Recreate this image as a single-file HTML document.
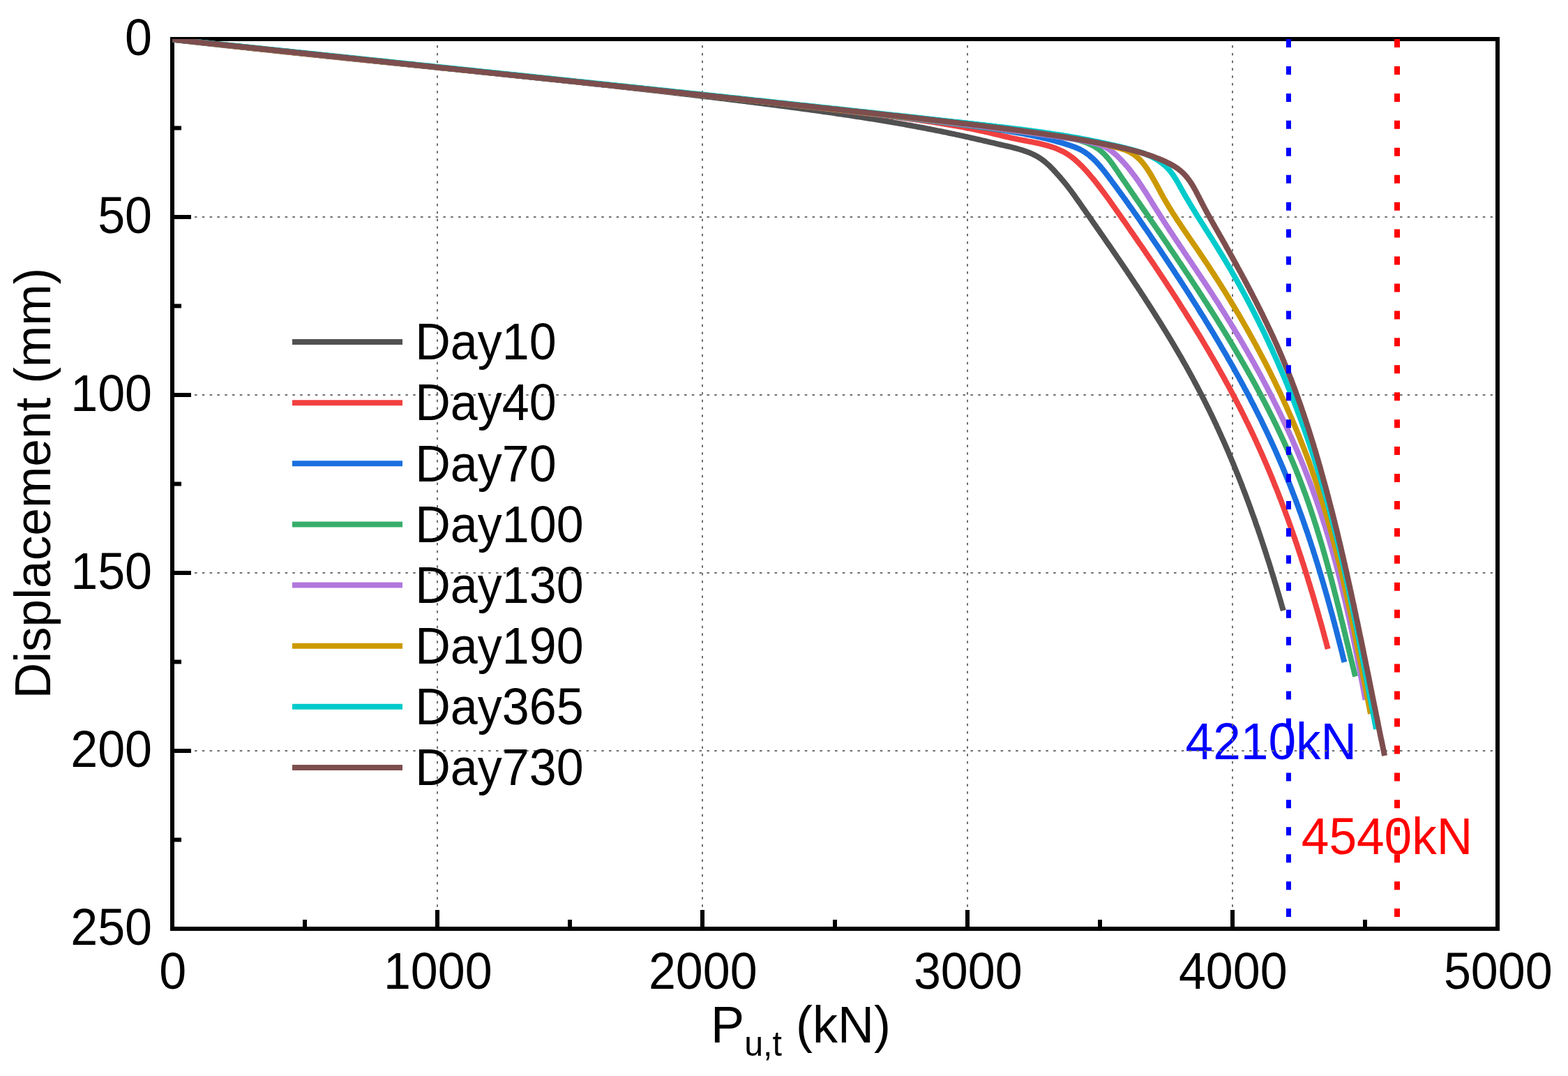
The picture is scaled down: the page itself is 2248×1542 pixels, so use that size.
<!DOCTYPE html>
<html><head><meta charset="utf-8"><title>Displacement vs load</title>
<style>html,body{margin:0;padding:0;background:#fff;width:2248px;height:1542px;overflow:hidden}</style>
</head><body>

<svg width="2248" height="1542" viewBox="0 0 2248 1542" style="display:block">
<rect x="0" y="0" width="2248" height="1542" fill="#fff"/>
<g font-family='"Liberation Sans", Arial, sans-serif'><text transform="translate(1699.60,1088.30) scale(1.0,1.05)" fill="#0000FF" font-size="71.2">4210kN</text><text transform="translate(1865.80,1224.30) scale(1.0,1.05)" fill="#FF0000" font-size="71.2">4540kN</text></g>
<g stroke="#6e6e6e" stroke-width="2" stroke-dasharray="3.5 7.3" fill="none"><line x1="627.0" y1="56" x2="627.0" y2="1331" stroke-dashoffset="1.7"/><line x1="1007.0" y1="56" x2="1007.0" y2="1331" stroke-dashoffset="1.7"/><line x1="1387.0" y1="56" x2="1387.0" y2="1331" stroke-dashoffset="1.7"/><line x1="1767.0" y1="56" x2="1767.0" y2="1331" stroke-dashoffset="1.7"/><line x1="247" y1="311.0" x2="2147" y2="311.0" stroke-dashoffset="0.4"/><line x1="247" y1="566.0" x2="2147" y2="566.0" stroke-dashoffset="0.4"/><line x1="247" y1="821.0" x2="2147" y2="821.0" stroke-dashoffset="0.4"/><line x1="247" y1="1076.0" x2="2147" y2="1076.0" stroke-dashoffset="0.4"/></g>
<g stroke="#000" stroke-width="6" fill="none"><line x1="247.0" y1="1331" x2="247.0" y2="1304"/><line x1="437.0" y1="1331" x2="437.0" y2="1318"/><line x1="627.0" y1="1331" x2="627.0" y2="1304"/><line x1="817.0" y1="1331" x2="817.0" y2="1318"/><line x1="1007.0" y1="1331" x2="1007.0" y2="1304"/><line x1="1197.0" y1="1331" x2="1197.0" y2="1318"/><line x1="1387.0" y1="1331" x2="1387.0" y2="1304"/><line x1="1577.0" y1="1331" x2="1577.0" y2="1318"/><line x1="1767.0" y1="1331" x2="1767.0" y2="1304"/><line x1="1957.0" y1="1331" x2="1957.0" y2="1318"/><line x1="2147.0" y1="1331" x2="2147.0" y2="1304"/><line x1="247" y1="56.0" x2="274" y2="56.0"/><line x1="247" y1="183.5" x2="260" y2="183.5"/><line x1="247" y1="311.0" x2="274" y2="311.0"/><line x1="247" y1="438.5" x2="260" y2="438.5"/><line x1="247" y1="566.0" x2="274" y2="566.0"/><line x1="247" y1="693.5" x2="260" y2="693.5"/><line x1="247" y1="821.0" x2="274" y2="821.0"/><line x1="247" y1="948.5" x2="260" y2="948.5"/><line x1="247" y1="1076.0" x2="274" y2="1076.0"/><line x1="247" y1="1203.5" x2="260" y2="1203.5"/><line x1="247" y1="1331.0" x2="274" y2="1331.0"/></g>
<rect x="247" y="56" width="1900" height="1275" fill="none" stroke="#000" stroke-width="6" stroke-linejoin="miter"/>
<defs><clipPath id="cp"><rect x="247" y="56" width="1900" height="1275"/></clipPath></defs>
<g clip-path="url(#cp)" fill="none" stroke-width="8" stroke-linejoin="round" stroke-linecap="butt">
<path d="M247.0,56.5 L250.0,56.8 L253.0,57.2 L255.9,57.5 L258.9,57.9 L261.9,58.2 L264.9,58.5 L267.8,58.9 L270.8,59.2 L273.8,59.5 L276.8,59.9 L279.7,60.2 L282.7,60.6 L285.7,60.9 L288.7,61.2 L291.7,61.6 L294.6,61.9 L297.6,62.2 L300.6,62.5 L303.6,62.9 L306.5,63.2 L309.5,63.5 L312.5,63.9 L315.5,64.2 L318.5,64.5 L321.4,64.9 L324.4,65.2 L327.4,65.5 L330.4,65.8 L333.4,66.2 L336.3,66.5 L339.3,66.8 L342.3,67.1 L345.3,67.5 L348.2,67.8 L351.2,68.1 L354.2,68.4 L357.2,68.7 L360.2,69.1 L363.1,69.4 L366.1,69.7 L369.1,70.0 L372.1,70.3 L375.1,70.7 L378.0,71.0 L381.0,71.3 L384.0,71.6 L387.0,71.9 L390.0,72.3 L392.9,72.6 L395.9,72.9 L398.9,73.2 L401.9,73.5 L404.9,73.8 L407.8,74.2 L410.8,74.5 L413.8,74.8 L416.8,75.1 L419.8,75.4 L422.7,75.7 L425.7,76.0 L428.7,76.3 L431.7,76.7 L434.7,77.0 L437.6,77.3 L440.6,77.6 L443.6,77.9 L446.6,78.2 L449.6,78.5 L452.5,78.8 L455.5,79.1 L458.5,79.5 L461.5,79.8 L464.5,80.1 L467.4,80.4 L470.4,80.7 L473.4,81.0 L476.4,81.3 L479.4,81.6 L482.3,81.9 L485.3,82.2 L488.3,82.5 L491.3,82.9 L494.3,83.2 L497.2,83.5 L500.2,83.8 L503.2,84.1 L506.2,84.4 L509.2,84.7 L512.1,85.0 L515.1,85.3 L518.1,85.6 L521.1,85.9 L524.1,86.2 L527.0,86.5 L530.0,86.8 L533.0,87.1 L536.0,87.4 L539.0,87.7 L542.0,88.0 L544.9,88.4 L547.9,88.7 L550.9,89.0 L553.9,89.3 L556.9,89.6 L559.8,89.9 L562.8,90.2 L565.8,90.5 L568.8,90.8 L571.8,91.1 L574.7,91.4 L577.7,91.7 L580.7,92.0 L583.7,92.3 L586.7,92.6 L589.6,92.9 L592.6,93.2 L595.6,93.5 L598.6,93.8 L601.6,94.1 L604.6,94.4 L607.5,94.7 L610.5,95.0 L613.5,95.3 L616.5,95.6 L619.5,96.0 L622.4,96.3 L625.4,96.6 L628.4,96.9 L631.4,97.2 L634.4,97.5 L637.3,97.8 L640.3,98.1 L643.3,98.4 L646.3,98.7 L649.3,99.0 L652.2,99.3 L655.2,99.6 L658.2,99.9 L661.2,100.2 L664.2,100.5 L667.2,100.8 L670.1,101.1 L673.1,101.4 L676.1,101.7 L679.1,102.0 L682.1,102.3 L685.0,102.7 L688.0,103.0 L691.0,103.3 L694.0,103.6 L697.0,103.9 L699.9,104.2 L702.9,104.5 L705.9,104.8 L708.9,105.1 L711.9,105.4 L714.8,105.7 L717.8,106.0 L720.8,106.3 L723.8,106.6 L726.8,107.0 L729.7,107.3 L732.7,107.6 L735.7,107.9 L738.7,108.2 L741.7,108.5 L744.6,108.8 L747.6,109.1 L750.6,109.4 L753.6,109.7 L756.6,110.0 L759.5,110.4 L762.5,110.7 L765.5,111.0 L768.5,111.3 L771.5,111.6 L774.4,111.9 L777.4,112.2 L780.4,112.5 L783.4,112.9 L786.4,113.2 L789.3,113.5 L792.3,113.8 L795.3,114.1 L798.3,114.4 L801.3,114.7 L804.2,115.1 L807.2,115.4 L810.2,115.7 L813.2,116.0 L816.2,116.3 L819.1,116.7 L822.1,117.0 L825.1,117.3 L828.1,117.6 L831.1,117.9 L834.0,118.2 L837.0,118.6 L840.0,118.9 L843.0,119.2 L846.0,119.5 L848.9,119.9 L851.9,120.2 L854.9,120.5 L857.9,120.8 L860.9,121.1 L863.8,121.5 L866.8,121.8 L869.8,122.1 L872.8,122.4 L875.7,122.8 L878.7,123.1 L881.7,123.4 L884.7,123.8 L887.7,124.1 L890.6,124.4 L893.6,124.7 L896.6,125.1 L899.6,125.4 L902.5,125.7 L905.5,126.1 L908.5,126.4 L911.5,126.7 L914.5,127.1 L917.4,127.4 L920.4,127.7 L923.4,128.1 L926.4,128.4 L929.3,128.7 L932.3,129.1 L935.3,129.4 L938.3,129.8 L941.3,130.1 L944.2,130.4 L947.2,130.8 L950.2,131.1 L953.2,131.5 L956.1,131.8 L959.1,132.1 L962.1,132.5 L965.1,132.8 L968.0,133.2 L971.0,133.5 L974.0,133.9 L977.0,134.2 L980.0,134.6 L982.9,134.9 L985.9,135.3 L988.9,135.6 L991.9,135.9 L994.8,136.3 L997.8,136.7 L1000.8,137.0 L1003.8,137.4 L1006.7,137.7 L1009.7,138.1 L1012.7,138.4 L1015.7,138.8 L1018.6,139.1 L1021.6,139.5 L1024.6,139.8 L1027.6,140.2 L1030.5,140.6 L1033.5,140.9 L1036.5,141.3 L1039.5,141.6 L1042.4,142.0 L1045.4,142.4 L1048.4,142.7 L1051.4,143.1 L1054.3,143.5 L1057.3,143.8 L1060.3,144.2 L1063.2,144.6 L1066.2,144.9 L1069.2,145.3 L1072.2,145.7 L1075.1,146.1 L1078.1,146.4 L1081.1,146.8 L1084.1,147.2 L1087.0,147.6 L1090.0,147.9 L1093.0,148.3 L1096.0,148.7 L1098.9,149.1 L1101.9,149.4 L1104.9,149.8 L1107.8,150.2 L1110.8,150.6 L1113.8,151.0 L1116.8,151.4 L1119.7,151.7 L1122.7,152.1 L1125.7,152.5 L1128.6,152.9 L1131.6,153.3 L1134.6,153.7 L1137.6,154.1 L1140.5,154.5 L1143.5,154.9 L1146.5,155.3 L1149.4,155.7 L1152.4,156.1 L1155.4,156.5 L1158.3,156.9 L1161.3,157.3 L1164.3,157.7 L1167.2,158.1 L1170.2,158.5 L1173.2,158.9 L1176.2,159.3 L1179.1,159.8 L1182.1,160.2 L1185.1,160.6 L1188.0,161.0 L1191.0,161.4 L1193.9,161.9 L1196.9,162.3 L1199.9,162.7 L1202.8,163.2 L1205.8,163.6 L1208.8,164.0 L1211.7,164.5 L1214.7,164.9 L1217.7,165.4 L1220.6,165.8 L1223.6,166.3 L1226.5,166.7 L1229.5,167.2 L1232.5,167.6 L1235.4,168.1 L1238.4,168.6 L1241.3,169.0 L1244.3,169.5 L1247.3,170.0 L1250.2,170.4 L1253.2,170.9 L1256.1,171.4 L1259.1,171.9 L1262.0,172.4 L1265.0,172.8 L1267.9,173.3 L1270.9,173.8 L1273.9,174.3 L1276.8,174.8 L1279.8,175.3 L1282.7,175.9 L1285.7,176.4 L1288.6,176.9 L1291.6,177.4 L1294.5,177.9 L1297.5,178.4 L1300.4,179.0 L1303.4,179.5 L1306.3,180.0 L1309.2,180.6 L1312.2,181.1 L1315.1,181.7 L1318.1,182.2 L1321.0,182.8 L1324.0,183.3 L1326.9,183.9 L1329.8,184.5 L1332.8,185.0 L1335.7,185.6 L1338.7,186.2 L1341.6,186.8 L1344.5,187.4 L1347.5,187.9 L1350.4,188.5 L1353.3,189.1 L1356.3,189.7 L1359.2,190.3 L1362.1,191.0 L1365.1,191.6 L1368.0,192.2 L1370.9,192.8 L1373.9,193.4 L1376.8,194.1 L1379.7,194.7 L1382.6,195.4 L1385.6,196.0 L1388.5,196.7 L1391.4,197.3 L1394.3,198.0 L1397.3,198.6 L1400.2,199.3 L1403.1,200.0 L1406.0,200.7 L1409.0,201.3 L1411.9,202.0 L1414.8,202.7 L1417.7,203.4 L1420.7,204.1 L1423.6,204.7 L1426.5,205.4 L1429.4,206.1 L1432.4,206.8 L1435.3,207.5 L1438.2,208.2 L1441.2,208.8 L1444.1,209.5 L1447.0,210.2 L1450.0,210.9 L1452.9,211.6 L1455.8,212.4 L1458.7,213.2 L1461.6,214.0 L1464.4,214.8 L1467.3,215.7 L1470.1,216.7 L1472.9,217.7 L1475.6,218.7 L1478.3,219.9 L1481.0,221.1 L1483.6,222.4 L1486.2,223.8 L1488.7,225.2 L1491.2,226.8 L1493.6,228.5 L1496.0,230.3 L1498.4,232.1 L1500.6,234.1 L1502.9,236.1 L1505.1,238.2 L1507.2,240.3 L1509.4,242.5 L1511.4,244.7 L1513.5,247.0 L1515.5,249.3 L1517.6,251.6 L1519.6,253.8 L1521.5,256.1 L1523.5,258.4 L1525.4,260.7 L1527.3,263.0 L1529.2,265.3 L1531.0,267.7 L1532.8,270.1 L1534.6,272.4 L1536.4,274.8 L1538.1,277.2 L1539.9,279.6 L1541.6,282.1 L1543.3,284.5 L1545.0,286.9 L1546.8,289.4 L1548.5,291.8 L1550.2,294.2 L1551.9,296.7 L1553.6,299.1 L1555.3,301.6 L1557.0,304.0 L1558.7,306.5 L1560.5,308.9 L1562.2,311.3 L1563.9,313.8 L1565.6,316.2 L1567.3,318.7 L1569.0,321.1 L1570.7,323.6 L1572.4,326.0 L1574.1,328.5 L1575.9,330.9 L1577.6,333.4 L1579.3,335.9 L1581.0,338.3 L1582.7,340.8 L1584.4,343.2 L1586.1,345.7 L1587.8,348.2 L1589.5,350.6 L1591.2,353.1 L1592.9,355.5 L1594.6,358.0 L1596.3,360.5 L1598.0,363.0 L1599.7,365.4 L1601.4,367.9 L1603.1,370.4 L1604.8,372.8 L1606.4,375.3 L1608.1,377.8 L1609.8,380.3 L1611.5,382.8 L1613.2,385.3 L1614.9,387.7 L1616.5,390.2 L1618.2,392.7 L1619.9,395.2 L1621.5,397.7 L1623.2,400.2 L1624.9,402.7 L1626.5,405.2 L1628.2,407.7 L1629.9,410.2 L1631.5,412.7 L1633.2,415.2 L1634.8,417.7 L1636.4,420.2 L1638.1,422.7 L1639.7,425.2 L1641.4,427.8 L1643.0,430.3 L1644.6,432.8 L1646.3,435.3 L1647.9,437.8 L1649.5,440.4 L1651.1,442.9 L1652.7,445.4 L1654.3,448.0 L1655.9,450.5 L1657.5,453.0 L1659.1,455.6 L1660.7,458.1 L1662.3,460.7 L1663.9,463.2 L1665.5,465.8 L1667.1,468.3 L1668.6,470.9 L1670.2,473.4 L1671.8,476.0 L1673.3,478.5 L1674.9,481.1 L1676.4,483.7 L1678.0,486.2 L1679.5,488.8 L1681.1,491.4 L1682.6,494.0 L1684.1,496.6 L1685.6,499.1 L1687.1,501.7 L1688.7,504.3 L1690.2,506.9 L1691.7,509.5 L1693.2,512.1 L1694.7,514.7 L1696.1,517.3 L1697.6,519.9 L1699.1,522.5 L1700.6,525.1 L1702.0,527.7 L1703.5,530.3 L1704.9,533.0 L1706.4,535.6 L1707.8,538.2 L1709.3,540.8 L1710.7,543.5 L1712.1,546.1 L1713.5,548.8 L1714.9,551.4 L1716.3,554.0 L1717.7,556.7 L1719.1,559.3 L1720.5,562.0 L1721.9,564.7 L1723.3,567.3 L1724.6,570.0 L1726.0,572.6 L1727.3,575.3 L1728.7,578.0 L1730.0,580.7 L1731.3,583.4 L1732.7,586.0 L1734.0,588.7 L1735.3,591.4 L1736.6,594.1 L1737.9,596.8 L1739.2,599.5 L1740.5,602.2 L1741.7,604.9 L1743.0,607.6 L1744.3,610.3 L1745.5,613.1 L1746.8,615.8 L1748.0,618.5 L1749.3,621.2 L1750.5,624.0 L1751.7,626.7 L1753.0,629.4 L1754.2,632.2 L1755.4,634.9 L1756.6,637.6 L1757.8,640.4 L1759.0,643.1 L1760.2,645.9 L1761.4,648.6 L1762.5,651.4 L1763.7,654.1 L1764.9,656.9 L1766.0,659.7 L1767.2,662.4 L1768.3,665.2 L1769.5,668.0 L1770.6,670.7 L1771.7,673.5 L1772.8,676.3 L1774.0,679.1 L1775.1,681.8 L1776.2,684.6 L1777.3,687.4 L1778.4,690.2 L1779.5,693.0 L1780.6,695.8 L1781.6,698.6 L1782.7,701.4 L1783.8,704.2 L1784.9,707.0 L1785.9,709.8 L1787.0,712.6 L1788.0,715.4 L1789.1,718.2 L1790.1,721.0 L1791.1,723.8 L1792.2,726.6 L1793.2,729.5 L1794.2,732.3 L1795.2,735.1 L1796.2,737.9 L1797.3,740.7 L1798.3,743.6 L1799.3,746.4 L1800.2,749.2 L1801.2,752.1 L1802.2,754.9 L1803.2,757.7 L1804.2,760.6 L1805.1,763.4 L1806.1,766.2 L1807.1,769.1 L1808.0,771.9 L1809.0,774.8 L1809.9,777.6 L1810.9,780.5 L1811.8,783.3 L1812.7,786.2 L1813.7,789.0 L1814.6,791.9 L1815.5,794.7 L1816.4,797.6 L1817.3,800.4 L1818.3,803.3 L1819.2,806.1 L1820.1,809.0 L1821.0,811.9 L1821.9,814.7 L1822.7,817.6 L1823.6,820.4 L1824.5,823.3 L1825.4,826.2 L1826.3,829.0 L1827.1,831.9 L1828.0,834.8 L1828.9,837.6 L1829.7,840.5 L1830.6,843.4 L1831.4,846.2 L1832.3,849.1 L1833.1,852.0 L1834.0,854.9 L1834.8,857.7 L1835.7,860.6 L1836.5,863.5 L1837.3,866.4 L1838.1,869.2 L1839.0,872.1 L1839.8,875.0" stroke="#515151"/>
<path d="M247.0,56.5 L250.0,56.8 L253.0,57.2 L255.9,57.5 L258.9,57.8 L261.9,58.1 L264.9,58.5 L267.9,58.8 L270.8,59.1 L273.8,59.4 L276.8,59.8 L279.8,60.1 L282.7,60.4 L285.7,60.7 L288.7,61.1 L291.7,61.4 L294.7,61.7 L297.6,62.0 L300.6,62.3 L303.6,62.7 L306.6,63.0 L309.6,63.3 L312.5,63.6 L315.5,63.9 L318.5,64.3 L321.5,64.6 L324.5,64.9 L327.4,65.2 L330.4,65.5 L333.4,65.9 L336.4,66.2 L339.4,66.5 L342.3,66.8 L345.3,67.1 L348.3,67.5 L351.3,67.8 L354.2,68.1 L357.2,68.4 L360.2,68.7 L363.2,69.0 L366.2,69.4 L369.1,69.7 L372.1,70.0 L375.1,70.3 L378.1,70.6 L381.1,70.9 L384.0,71.2 L387.0,71.6 L390.0,71.9 L393.0,72.2 L396.0,72.5 L398.9,72.8 L401.9,73.1 L404.9,73.4 L407.9,73.8 L410.9,74.1 L413.8,74.4 L416.8,74.7 L419.8,75.0 L422.8,75.3 L425.8,75.6 L428.7,75.9 L431.7,76.3 L434.7,76.6 L437.7,76.9 L440.7,77.2 L443.6,77.5 L446.6,77.8 L449.6,78.1 L452.6,78.4 L455.6,78.7 L458.5,79.1 L461.5,79.4 L464.5,79.7 L467.5,80.0 L470.5,80.3 L473.4,80.6 L476.4,80.9 L479.4,81.2 L482.4,81.5 L485.4,81.8 L488.3,82.1 L491.3,82.5 L494.3,82.8 L497.3,83.1 L500.3,83.4 L503.2,83.7 L506.2,84.0 L509.2,84.3 L512.2,84.6 L515.2,84.9 L518.1,85.2 L521.1,85.5 L524.1,85.8 L527.1,86.2 L530.1,86.5 L533.0,86.8 L536.0,87.1 L539.0,87.4 L542.0,87.7 L545.0,88.0 L547.9,88.3 L550.9,88.6 L553.9,88.9 L556.9,89.2 L559.9,89.5 L562.8,89.8 L565.8,90.1 L568.8,90.4 L571.8,90.7 L574.8,91.1 L577.7,91.4 L580.7,91.7 L583.7,92.0 L586.7,92.3 L589.7,92.6 L592.6,92.9 L595.6,93.2 L598.6,93.5 L601.6,93.8 L604.6,94.1 L607.5,94.4 L610.5,94.7 L613.5,95.0 L616.5,95.3 L619.5,95.6 L622.4,95.9 L625.4,96.2 L628.4,96.6 L631.4,96.9 L634.4,97.2 L637.3,97.5 L640.3,97.8 L643.3,98.1 L646.3,98.4 L649.3,98.7 L652.2,99.0 L655.2,99.3 L658.2,99.6 L661.2,99.9 L664.2,100.2 L667.1,100.5 L670.1,100.8 L673.1,101.1 L676.1,101.4 L679.1,101.7 L682.0,102.0 L685.0,102.3 L688.0,102.7 L691.0,103.0 L694.0,103.3 L696.9,103.6 L699.9,103.9 L702.9,104.2 L705.9,104.5 L708.9,104.8 L711.9,105.1 L714.8,105.4 L717.8,105.7 L720.8,106.0 L723.8,106.3 L726.8,106.6 L729.7,106.9 L732.7,107.2 L735.7,107.5 L738.7,107.8 L741.7,108.2 L744.6,108.5 L747.6,108.8 L750.6,109.1 L753.6,109.4 L756.6,109.7 L759.5,110.0 L762.5,110.3 L765.5,110.6 L768.5,110.9 L771.5,111.2 L774.4,111.5 L777.4,111.8 L780.4,112.1 L783.4,112.5 L786.4,112.8 L789.3,113.1 L792.3,113.4 L795.3,113.7 L798.3,114.0 L801.3,114.3 L804.2,114.6 L807.2,114.9 L810.2,115.2 L813.2,115.5 L816.2,115.8 L819.1,116.1 L822.1,116.5 L825.1,116.8 L828.1,117.1 L831.1,117.4 L834.0,117.7 L837.0,118.0 L840.0,118.3 L843.0,118.6 L846.0,118.9 L848.9,119.2 L851.9,119.6 L854.9,119.9 L857.9,120.2 L860.8,120.5 L863.8,120.8 L866.8,121.1 L869.8,121.4 L872.8,121.7 L875.7,122.0 L878.7,122.4 L881.7,122.7 L884.7,123.0 L887.7,123.3 L890.6,123.6 L893.6,123.9 L896.6,124.2 L899.6,124.5 L902.6,124.9 L905.5,125.2 L908.5,125.5 L911.5,125.8 L914.5,126.1 L917.5,126.4 L920.4,126.7 L923.4,127.1 L926.4,127.4 L929.4,127.7 L932.4,128.0 L935.3,128.3 L938.3,128.6 L941.3,129.0 L944.3,129.3 L947.3,129.6 L950.2,129.9 L953.2,130.2 L956.2,130.5 L959.2,130.9 L962.1,131.2 L965.1,131.5 L968.1,131.8 L971.1,132.1 L974.1,132.5 L977.0,132.8 L980.0,133.1 L983.0,133.4 L986.0,133.7 L989.0,134.0 L991.9,134.4 L994.9,134.7 L997.9,135.0 L1000.9,135.3 L1003.9,135.7 L1006.8,136.0 L1009.8,136.3 L1012.8,136.6 L1015.8,136.9 L1018.7,137.3 L1021.7,137.6 L1024.7,137.9 L1027.7,138.2 L1030.7,138.6 L1033.6,138.9 L1036.6,139.2 L1039.6,139.5 L1042.6,139.9 L1045.6,140.2 L1048.5,140.5 L1051.5,140.8 L1054.5,141.2 L1057.5,141.5 L1060.4,141.8 L1063.4,142.2 L1066.4,142.5 L1069.4,142.8 L1072.4,143.1 L1075.3,143.5 L1078.3,143.8 L1081.3,144.1 L1084.3,144.5 L1087.2,144.8 L1090.2,145.1 L1093.2,145.5 L1096.2,145.8 L1099.2,146.1 L1102.1,146.5 L1105.1,146.8 L1108.1,147.1 L1111.1,147.5 L1114.1,147.8 L1117.0,148.1 L1120.0,148.5 L1123.0,148.8 L1126.0,149.1 L1128.9,149.5 L1131.9,149.8 L1134.9,150.1 L1137.9,150.5 L1140.8,150.8 L1143.8,151.1 L1146.8,151.5 L1149.8,151.8 L1152.8,152.2 L1155.7,152.5 L1158.7,152.8 L1161.7,153.2 L1164.7,153.5 L1167.6,153.9 L1170.6,154.2 L1173.6,154.5 L1176.6,154.9 L1179.6,155.2 L1182.5,155.6 L1185.5,155.9 L1188.5,156.3 L1191.5,156.6 L1194.4,157.0 L1197.4,157.3 L1200.4,157.6 L1203.4,158.0 L1206.3,158.3 L1209.3,158.7 L1212.3,159.0 L1215.3,159.4 L1218.3,159.7 L1221.2,160.1 L1224.2,160.4 L1227.2,160.8 L1230.2,161.1 L1233.1,161.5 L1236.1,161.8 L1239.1,162.2 L1242.1,162.5 L1245.0,162.9 L1248.0,163.2 L1251.0,163.6 L1254.0,164.0 L1256.9,164.3 L1259.9,164.7 L1262.9,165.0 L1265.9,165.4 L1268.8,165.7 L1271.8,166.1 L1274.8,166.5 L1277.8,166.8 L1280.7,167.2 L1283.7,167.6 L1286.7,167.9 L1289.7,168.3 L1292.6,168.7 L1295.6,169.1 L1298.6,169.5 L1301.5,169.9 L1304.5,170.3 L1307.5,170.7 L1310.5,171.1 L1313.4,171.5 L1316.4,171.9 L1319.4,172.3 L1322.3,172.7 L1325.3,173.1 L1328.2,173.6 L1331.2,174.0 L1334.2,174.4 L1337.1,174.9 L1340.1,175.3 L1343.0,175.8 L1346.0,176.3 L1349.0,176.7 L1351.9,177.2 L1354.9,177.7 L1357.8,178.2 L1360.8,178.7 L1363.7,179.2 L1366.7,179.7 L1369.6,180.2 L1372.6,180.8 L1375.5,181.3 L1378.4,181.8 L1381.4,182.4 L1384.3,183.0 L1387.3,183.5 L1390.2,184.1 L1393.1,184.7 L1396.1,185.3 L1399.0,185.9 L1401.9,186.5 L1404.8,187.1 L1407.8,187.8 L1410.7,188.4 L1413.6,189.1 L1416.5,189.7 L1419.4,190.4 L1422.4,191.1 L1425.3,191.8 L1428.2,192.5 L1431.1,193.2 L1434.0,193.9 L1436.9,194.6 L1439.8,195.3 L1442.8,196.0 L1445.7,196.7 L1448.6,197.4 L1451.6,198.0 L1454.5,198.6 L1457.5,199.2 L1460.4,199.8 L1463.4,200.4 L1466.3,201.0 L1469.3,201.5 L1472.3,202.1 L1475.2,202.7 L1478.2,203.2 L1481.2,203.8 L1484.1,204.4 L1487.0,205.0 L1490.0,205.7 L1492.9,206.4 L1495.8,207.1 L1498.7,207.8 L1501.6,208.6 L1504.4,209.5 L1507.3,210.4 L1510.1,211.3 L1512.9,212.3 L1515.7,213.4 L1518.4,214.6 L1521.1,215.8 L1523.8,217.1 L1526.4,218.5 L1529.0,220.0 L1531.5,221.6 L1533.9,223.3 L1536.3,225.0 L1538.7,226.8 L1541.0,228.7 L1543.2,230.7 L1545.5,232.7 L1547.6,234.8 L1549.8,236.9 L1551.9,239.0 L1554.0,241.2 L1556.0,243.4 L1558.0,245.7 L1560.0,247.9 L1562.0,250.2 L1563.9,252.5 L1565.9,254.8 L1567.8,257.1 L1569.7,259.4 L1571.5,261.7 L1573.4,264.1 L1575.2,266.5 L1577.0,268.8 L1578.9,271.2 L1580.6,273.6 L1582.4,276.0 L1584.2,278.4 L1586.0,280.8 L1587.7,283.2 L1589.5,285.6 L1591.2,288.1 L1592.9,290.5 L1594.7,292.9 L1596.4,295.4 L1598.1,297.8 L1599.8,300.3 L1601.6,302.7 L1603.3,305.2 L1605.0,307.6 L1606.7,310.0 L1608.4,312.5 L1610.1,314.9 L1611.9,317.4 L1613.6,319.8 L1615.3,322.3 L1617.0,324.8 L1618.7,327.2 L1620.4,329.7 L1622.1,332.1 L1623.8,334.6 L1625.5,337.0 L1627.2,339.5 L1628.9,342.0 L1630.6,344.4 L1632.3,346.9 L1634.0,349.4 L1635.7,351.8 L1637.4,354.3 L1639.1,356.8 L1640.8,359.3 L1642.5,361.7 L1644.2,364.2 L1645.9,366.7 L1647.6,369.2 L1649.2,371.6 L1650.9,374.1 L1652.6,376.6 L1654.3,379.1 L1656.0,381.6 L1657.6,384.1 L1659.3,386.6 L1661.0,389.1 L1662.6,391.6 L1664.3,394.1 L1665.9,396.6 L1667.6,399.1 L1669.3,401.6 L1670.9,404.1 L1672.6,406.6 L1674.2,409.1 L1675.8,411.6 L1677.5,414.1 L1679.1,416.6 L1680.8,419.1 L1682.4,421.6 L1684.0,424.1 L1685.7,426.7 L1687.3,429.2 L1688.9,431.7 L1690.5,434.2 L1692.1,436.8 L1693.7,439.3 L1695.3,441.8 L1697.0,444.4 L1698.6,446.9 L1700.2,449.4 L1701.7,452.0 L1703.3,454.5 L1704.9,457.0 L1706.5,459.6 L1708.1,462.1 L1709.7,464.7 L1711.2,467.2 L1712.8,469.8 L1714.4,472.4 L1715.9,474.9 L1717.5,477.5 L1719.1,480.0 L1720.6,482.6 L1722.2,485.2 L1723.7,487.7 L1725.2,490.3 L1726.8,492.9 L1728.3,495.5 L1729.8,498.0 L1731.4,500.6 L1732.9,503.2 L1734.4,505.8 L1735.9,508.4 L1737.4,511.0 L1738.9,513.6 L1740.4,516.2 L1741.9,518.7 L1743.4,521.3 L1744.9,524.0 L1746.3,526.6 L1747.8,529.2 L1749.3,531.8 L1750.7,534.4 L1752.2,537.0 L1753.6,539.6 L1755.1,542.2 L1756.5,544.9 L1758.0,547.5 L1759.4,550.1 L1760.8,552.7 L1762.3,555.4 L1763.7,558.0 L1765.1,560.7 L1766.5,563.3 L1767.9,565.9 L1769.3,568.6 L1770.7,571.2 L1772.1,573.9 L1773.5,576.6 L1774.8,579.2 L1776.2,581.9 L1777.6,584.5 L1778.9,587.2 L1780.3,589.9 L1781.6,592.5 L1783.0,595.2 L1784.3,597.9 L1785.6,600.6 L1786.9,603.3 L1788.3,606.0 L1789.6,608.6 L1790.9,611.3 L1792.2,614.0 L1793.5,616.7 L1794.8,619.4 L1796.0,622.1 L1797.3,624.8 L1798.6,627.6 L1799.8,630.3 L1801.1,633.0 L1802.3,635.7 L1803.6,638.4 L1804.8,641.2 L1806.0,643.9 L1807.3,646.6 L1808.5,649.4 L1809.7,652.1 L1810.9,654.8 L1812.1,657.6 L1813.3,660.3 L1814.5,663.1 L1815.7,665.8 L1816.8,668.6 L1818.0,671.4 L1819.2,674.1 L1820.3,676.9 L1821.5,679.6 L1822.6,682.4 L1823.8,685.2 L1824.9,688.0 L1826.0,690.7 L1827.1,693.5 L1828.2,696.3 L1829.4,699.1 L1830.5,701.9 L1831.6,704.7 L1832.7,707.4 L1833.7,710.2 L1834.8,713.0 L1835.9,715.8 L1837.0,718.6 L1838.0,721.4 L1839.1,724.2 L1840.2,727.0 L1841.2,729.9 L1842.3,732.7 L1843.3,735.5 L1844.3,738.3 L1845.4,741.1 L1846.4,743.9 L1847.4,746.7 L1848.4,749.6 L1849.4,752.4 L1850.4,755.2 L1851.4,758.0 L1852.4,760.9 L1853.4,763.7 L1854.4,766.5 L1855.4,769.4 L1856.4,772.2 L1857.3,775.1 L1858.3,777.9 L1859.3,780.7 L1860.2,783.6 L1861.2,786.4 L1862.1,789.3 L1863.1,792.1 L1864.0,795.0 L1865.0,797.8 L1865.9,800.7 L1866.8,803.5 L1867.7,806.4 L1868.7,809.2 L1869.6,812.1 L1870.5,815.0 L1871.4,817.8 L1872.3,820.7 L1873.2,823.5 L1874.1,826.4 L1875.0,829.3 L1875.8,832.1 L1876.7,835.0 L1877.6,837.9 L1878.5,840.7 L1879.3,843.6 L1880.2,846.5 L1881.1,849.3 L1881.9,852.2 L1882.8,855.1 L1883.6,858.0 L1884.5,860.8 L1885.3,863.7 L1886.2,866.6 L1887.0,869.5 L1887.8,872.3 L1888.7,875.2 L1889.5,878.1 L1890.3,881.0 L1891.1,883.9 L1891.9,886.7 L1892.8,889.6 L1893.6,892.5 L1894.4,895.4 L1895.2,898.3 L1896.0,901.2 L1896.8,904.0 L1897.6,906.9 L1898.3,909.8 L1899.1,912.7 L1899.9,915.6 L1900.7,918.5 L1901.5,921.3 L1902.2,924.2 L1903.0,927.1 L1903.8,930.0" stroke="#F14040"/>
<path d="M247.0,56.5 L250.0,56.8 L253.0,57.1 L255.9,57.4 L258.9,57.7 L261.9,58.1 L264.9,58.4 L267.9,58.7 L270.8,59.0 L273.8,59.3 L276.8,59.6 L279.8,59.9 L282.8,60.3 L285.7,60.6 L288.7,60.9 L291.7,61.2 L294.7,61.5 L297.7,61.8 L300.7,62.1 L303.6,62.4 L306.6,62.8 L309.6,63.1 L312.6,63.4 L315.6,63.7 L318.5,64.0 L321.5,64.3 L324.5,64.6 L327.5,64.9 L330.5,65.3 L333.4,65.6 L336.4,65.9 L339.4,66.2 L342.4,66.5 L345.4,66.8 L348.3,67.1 L351.3,67.4 L354.3,67.8 L357.3,68.1 L360.3,68.4 L363.3,68.7 L366.2,69.0 L369.2,69.3 L372.2,69.6 L375.2,70.0 L378.2,70.3 L381.1,70.6 L384.1,70.9 L387.1,71.2 L390.1,71.5 L393.1,71.8 L396.0,72.2 L399.0,72.5 L402.0,72.8 L405.0,73.1 L408.0,73.4 L411.0,73.7 L413.9,74.0 L416.9,74.3 L419.9,74.7 L422.9,75.0 L425.9,75.3 L428.8,75.6 L431.8,75.9 L434.8,76.2 L437.8,76.5 L440.8,76.9 L443.8,77.2 L446.7,77.5 L449.7,77.8 L452.7,78.1 L455.7,78.4 L458.7,78.7 L461.6,79.0 L464.6,79.4 L467.6,79.7 L470.6,80.0 L473.6,80.3 L476.6,80.6 L479.5,80.9 L482.5,81.2 L485.5,81.6 L488.5,81.9 L491.5,82.2 L494.4,82.5 L497.4,82.8 L500.4,83.1 L503.4,83.4 L506.4,83.8 L509.4,84.1 L512.3,84.4 L515.3,84.7 L518.3,85.0 L521.3,85.3 L524.3,85.6 L527.2,85.9 L530.2,86.3 L533.2,86.6 L536.2,86.9 L539.2,87.2 L542.2,87.5 L545.1,87.8 L548.1,88.1 L551.1,88.5 L554.1,88.8 L557.1,89.1 L560.0,89.4 L563.0,89.7 L566.0,90.0 L569.0,90.3 L572.0,90.6 L575.0,91.0 L577.9,91.3 L580.9,91.6 L583.9,91.9 L586.9,92.2 L589.9,92.5 L592.8,92.8 L595.8,93.2 L598.8,93.5 L601.8,93.8 L604.8,94.1 L607.8,94.4 L610.7,94.7 L613.7,95.0 L616.7,95.3 L619.7,95.7 L622.7,96.0 L625.6,96.3 L628.6,96.6 L631.6,96.9 L634.6,97.2 L637.6,97.5 L640.6,97.8 L643.5,98.2 L646.5,98.5 L649.5,98.8 L652.5,99.1 L655.5,99.4 L658.5,99.7 L661.4,100.0 L664.4,100.3 L667.4,100.7 L670.4,101.0 L673.4,101.3 L676.3,101.6 L679.3,101.9 L682.3,102.2 L685.3,102.5 L688.3,102.8 L691.3,103.2 L694.2,103.5 L697.2,103.8 L700.2,104.1 L703.2,104.4 L706.2,104.7 L709.1,105.0 L712.1,105.3 L715.1,105.6 L718.1,106.0 L721.1,106.3 L724.1,106.6 L727.0,106.9 L730.0,107.2 L733.0,107.5 L736.0,107.8 L739.0,108.1 L741.9,108.4 L744.9,108.8 L747.9,109.1 L750.9,109.4 L753.9,109.7 L756.9,110.0 L759.8,110.3 L762.8,110.6 L765.8,110.9 L768.8,111.2 L771.8,111.6 L774.7,111.9 L777.7,112.2 L780.7,112.5 L783.7,112.8 L786.7,113.1 L789.7,113.4 L792.6,113.7 L795.6,114.0 L798.6,114.4 L801.6,114.7 L804.6,115.0 L807.5,115.3 L810.5,115.6 L813.5,115.9 L816.5,116.2 L819.5,116.5 L822.5,116.8 L825.4,117.1 L828.4,117.5 L831.4,117.8 L834.4,118.1 L837.4,118.4 L840.3,118.7 L843.3,119.0 L846.3,119.3 L849.3,119.6 L852.3,119.9 L855.2,120.2 L858.2,120.5 L861.2,120.9 L864.2,121.2 L867.2,121.5 L870.2,121.8 L873.1,122.1 L876.1,122.4 L879.1,122.7 L882.1,123.0 L885.1,123.3 L888.0,123.6 L891.0,124.0 L894.0,124.3 L897.0,124.6 L900.0,124.9 L902.9,125.2 L905.9,125.5 L908.9,125.8 L911.9,126.1 L914.9,126.4 L917.9,126.7 L920.8,127.1 L923.8,127.4 L926.8,127.7 L929.8,128.0 L932.8,128.3 L935.7,128.6 L938.7,128.9 L941.7,129.2 L944.7,129.5 L947.7,129.8 L950.6,130.2 L953.6,130.5 L956.6,130.8 L959.6,131.1 L962.6,131.4 L965.5,131.7 L968.5,132.0 L971.5,132.3 L974.5,132.7 L977.5,133.0 L980.4,133.3 L983.4,133.6 L986.4,133.9 L989.4,134.2 L992.4,134.5 L995.4,134.9 L998.3,135.2 L1001.3,135.5 L1004.3,135.8 L1007.3,136.1 L1010.3,136.4 L1013.2,136.7 L1016.2,137.1 L1019.2,137.4 L1022.2,137.7 L1025.2,138.0 L1028.1,138.3 L1031.1,138.6 L1034.1,139.0 L1037.1,139.3 L1040.1,139.6 L1043.0,139.9 L1046.0,140.2 L1049.0,140.5 L1052.0,140.9 L1055.0,141.2 L1057.9,141.5 L1060.9,141.8 L1063.9,142.1 L1066.9,142.5 L1069.9,142.8 L1072.8,143.1 L1075.8,143.4 L1078.8,143.7 L1081.8,144.1 L1084.8,144.4 L1087.7,144.7 L1090.7,145.0 L1093.7,145.4 L1096.7,145.7 L1099.7,146.0 L1102.6,146.3 L1105.6,146.7 L1108.6,147.0 L1111.6,147.3 L1114.6,147.6 L1117.5,148.0 L1120.5,148.3 L1123.5,148.6 L1126.5,148.9 L1129.4,149.3 L1132.4,149.6 L1135.4,149.9 L1138.4,150.3 L1141.4,150.6 L1144.3,150.9 L1147.3,151.2 L1150.3,151.6 L1153.3,151.9 L1156.3,152.2 L1159.2,152.6 L1162.2,152.9 L1165.2,153.2 L1168.2,153.6 L1171.2,153.9 L1174.1,154.2 L1177.1,154.6 L1180.1,154.9 L1183.1,155.2 L1186.0,155.6 L1189.0,155.9 L1192.0,156.3 L1195.0,156.6 L1198.0,156.9 L1200.9,157.3 L1203.9,157.6 L1206.9,158.0 L1209.9,158.3 L1212.9,158.6 L1215.8,159.0 L1218.8,159.3 L1221.8,159.7 L1224.8,160.0 L1227.7,160.4 L1230.7,160.7 L1233.7,161.0 L1236.7,161.4 L1239.7,161.7 L1242.6,162.1 L1245.6,162.4 L1248.6,162.8 L1251.6,163.1 L1254.5,163.5 L1257.5,163.8 L1260.5,164.2 L1263.5,164.5 L1266.5,164.9 L1269.4,165.2 L1272.4,165.6 L1275.4,165.9 L1278.4,166.3 L1281.3,166.6 L1284.3,167.0 L1287.3,167.4 L1290.3,167.7 L1293.2,168.1 L1296.2,168.4 L1299.2,168.8 L1302.2,169.1 L1305.2,169.5 L1308.1,169.9 L1311.1,170.2 L1314.1,170.6 L1317.1,171.0 L1320.0,171.3 L1323.0,171.7 L1326.0,172.0 L1329.0,172.4 L1331.9,172.8 L1334.9,173.1 L1337.9,173.5 L1340.9,173.9 L1343.9,174.2 L1346.8,174.6 L1349.8,175.0 L1352.8,175.4 L1355.8,175.7 L1358.7,176.1 L1361.7,176.5 L1364.7,176.9 L1367.7,177.2 L1370.6,177.6 L1373.6,178.0 L1376.6,178.4 L1379.6,178.7 L1382.5,179.1 L1385.5,179.5 L1388.5,179.9 L1391.5,180.3 L1394.4,180.6 L1397.4,181.0 L1400.4,181.4 L1403.4,181.8 L1406.3,182.2 L1409.3,182.6 L1412.3,183.0 L1415.3,183.4 L1418.2,183.8 L1421.2,184.2 L1424.2,184.6 L1427.1,185.1 L1430.1,185.5 L1433.1,185.9 L1436.0,186.4 L1439.0,186.8 L1442.0,187.3 L1444.9,187.8 L1447.9,188.3 L1450.8,188.8 L1453.8,189.3 L1456.8,189.8 L1459.7,190.3 L1462.7,190.8 L1465.6,191.4 L1468.6,191.9 L1471.5,192.5 L1474.5,193.1 L1477.4,193.7 L1480.3,194.3 L1483.3,194.9 L1486.2,195.5 L1489.1,196.2 L1492.1,196.8 L1495.0,197.5 L1497.9,198.2 L1500.8,198.9 L1503.8,199.7 L1506.7,200.4 L1509.6,201.2 L1512.5,202.0 L1515.4,202.8 L1518.3,203.6 L1521.2,204.4 L1524.1,205.3 L1527.0,206.2 L1529.9,207.1 L1532.8,208.0 L1535.6,209.0 L1538.5,210.0 L1541.3,211.0 L1544.1,212.2 L1546.8,213.4 L1549.4,214.7 L1552.0,216.1 L1554.5,217.6 L1556.9,219.2 L1559.3,220.9 L1561.6,222.7 L1563.8,224.6 L1566.0,226.5 L1568.2,228.5 L1570.3,230.6 L1572.3,232.7 L1574.3,234.9 L1576.3,237.1 L1578.2,239.4 L1580.1,241.7 L1582.0,244.1 L1583.9,246.4 L1585.7,248.8 L1587.6,251.2 L1589.4,253.6 L1591.2,256.0 L1593.0,258.5 L1594.8,260.9 L1596.6,263.3 L1598.4,265.7 L1600.2,268.2 L1602.0,270.6 L1603.7,273.0 L1605.5,275.4 L1607.3,277.9 L1609.1,280.3 L1610.8,282.7 L1612.6,285.2 L1614.3,287.6 L1616.1,290.1 L1617.8,292.5 L1619.5,295.0 L1621.3,297.4 L1623.0,299.8 L1624.7,302.3 L1626.4,304.7 L1628.2,307.2 L1629.9,309.6 L1631.6,312.1 L1633.3,314.6 L1635.0,317.0 L1636.7,319.5 L1638.4,321.9 L1640.1,324.4 L1641.8,326.9 L1643.5,329.3 L1645.2,331.8 L1646.9,334.3 L1648.6,336.7 L1650.2,339.2 L1651.9,341.7 L1653.6,344.2 L1655.3,346.6 L1656.9,349.1 L1658.6,351.6 L1660.3,354.1 L1662.0,356.6 L1663.6,359.0 L1665.3,361.5 L1666.9,364.0 L1668.6,366.5 L1670.3,369.0 L1671.9,371.5 L1673.6,374.0 L1675.2,376.5 L1676.9,379.0 L1678.6,381.5 L1680.2,384.0 L1681.9,386.5 L1683.5,389.0 L1685.1,391.5 L1686.8,394.0 L1688.4,396.5 L1690.1,399.0 L1691.7,401.5 L1693.3,404.0 L1695.0,406.5 L1696.6,409.1 L1698.2,411.6 L1699.9,414.1 L1701.5,416.6 L1703.1,419.1 L1704.7,421.7 L1706.3,424.2 L1707.9,426.7 L1709.5,429.3 L1711.2,431.8 L1712.8,434.3 L1714.4,436.9 L1716.0,439.4 L1717.6,441.9 L1719.1,444.5 L1720.7,447.0 L1722.3,449.6 L1723.9,452.1 L1725.5,454.7 L1727.1,457.2 L1728.6,459.8 L1730.2,462.3 L1731.8,464.9 L1733.3,467.5 L1734.9,470.0 L1736.5,472.6 L1738.0,475.2 L1739.6,477.7 L1741.1,480.3 L1742.6,482.9 L1744.2,485.4 L1745.7,488.0 L1747.2,490.6 L1748.8,493.2 L1750.3,495.8 L1751.8,498.4 L1753.3,500.9 L1754.8,503.5 L1756.4,506.1 L1757.9,508.7 L1759.4,511.3 L1760.8,513.9 L1762.3,516.5 L1763.8,519.1 L1765.3,521.7 L1766.8,524.3 L1768.3,527.0 L1769.7,529.6 L1771.2,532.2 L1772.6,534.8 L1774.1,537.4 L1775.6,540.1 L1777.0,542.7 L1778.4,545.3 L1779.9,547.9 L1781.3,550.6 L1782.7,553.2 L1784.1,555.9 L1785.6,558.5 L1787.0,561.1 L1788.4,563.8 L1789.8,566.4 L1791.2,569.1 L1792.6,571.7 L1793.9,574.4 L1795.3,577.1 L1796.7,579.7 L1798.1,582.4 L1799.4,585.1 L1800.8,587.7 L1802.1,590.4 L1803.5,593.1 L1804.8,595.8 L1806.2,598.4 L1807.5,601.1 L1808.8,603.8 L1810.1,606.5 L1811.4,609.2 L1812.7,611.9 L1814.0,614.6 L1815.3,617.3 L1816.6,620.0 L1817.9,622.7 L1819.2,625.4 L1820.4,628.1 L1821.7,630.8 L1822.9,633.6 L1824.2,636.3 L1825.4,639.0 L1826.7,641.7 L1827.9,644.5 L1829.1,647.2 L1830.3,649.9 L1831.5,652.7 L1832.7,655.4 L1833.9,658.2 L1835.1,660.9 L1836.3,663.7 L1837.5,666.4 L1838.7,669.2 L1839.8,671.9 L1841.0,674.7 L1842.1,677.5 L1843.3,680.2 L1844.4,683.0 L1845.5,685.8 L1846.6,688.6 L1847.8,691.4 L1848.9,694.1 L1850.0,696.9 L1851.1,699.7 L1852.2,702.5 L1853.2,705.3 L1854.3,708.1 L1855.4,710.9 L1856.5,713.7 L1857.5,716.5 L1858.6,719.3 L1859.6,722.1 L1860.7,724.9 L1861.7,727.8 L1862.7,730.6 L1863.7,733.4 L1864.8,736.2 L1865.8,739.0 L1866.8,741.9 L1867.8,744.7 L1868.8,747.5 L1869.8,750.4 L1870.8,753.2 L1871.7,756.0 L1872.7,758.9 L1873.7,761.7 L1874.7,764.5 L1875.6,767.4 L1876.6,770.2 L1877.5,773.1 L1878.5,775.9 L1879.4,778.8 L1880.3,781.6 L1881.3,784.5 L1882.2,787.3 L1883.1,790.2 L1884.0,793.1 L1884.9,795.9 L1885.8,798.8 L1886.7,801.6 L1887.6,804.5 L1888.5,807.4 L1889.4,810.3 L1890.3,813.1 L1891.1,816.0 L1892.0,818.9 L1892.9,821.7 L1893.8,824.6 L1894.6,827.5 L1895.5,830.4 L1896.3,833.2 L1897.2,836.1 L1898.0,839.0 L1898.8,841.9 L1899.7,844.8 L1900.5,847.7 L1901.3,850.5 L1902.2,853.4 L1903.0,856.3 L1903.8,859.2 L1904.6,862.1 L1905.4,865.0 L1906.2,867.9 L1907.0,870.8 L1907.8,873.7 L1908.6,876.6 L1909.4,879.4 L1910.2,882.3 L1911.0,885.2 L1911.7,888.1 L1912.5,891.0 L1913.3,893.9 L1914.0,896.8 L1914.8,899.7 L1915.6,902.6 L1916.3,905.5 L1917.1,908.4 L1917.8,911.3 L1918.6,914.2 L1919.3,917.1 L1920.1,920.0 L1920.8,922.9 L1921.6,925.8 L1922.3,928.7 L1923.0,931.6 L1923.8,934.5 L1924.5,937.4 L1925.2,940.3 L1925.9,943.2 L1926.7,946.1 L1927.4,949.0" stroke="#1A6FDF"/>
<path d="M247.0,56.5 L250.0,56.8 L253.0,57.1 L256.0,57.4 L258.9,57.8 L261.9,58.1 L264.9,58.4 L267.9,58.7 L270.9,59.0 L273.9,59.3 L276.9,59.6 L279.9,59.9 L282.8,60.3 L285.8,60.6 L288.8,60.9 L291.8,61.2 L294.8,61.5 L297.8,61.8 L300.7,62.1 L303.7,62.4 L306.7,62.8 L309.7,63.1 L312.7,63.4 L315.7,63.7 L318.7,64.0 L321.6,64.3 L324.6,64.6 L327.6,65.0 L330.6,65.3 L333.6,65.6 L336.6,65.9 L339.5,66.2 L342.5,66.5 L345.5,66.8 L348.5,67.1 L351.5,67.5 L354.5,67.8 L357.4,68.1 L360.4,68.4 L363.4,68.7 L366.4,69.0 L369.4,69.3 L372.4,69.7 L375.3,70.0 L378.3,70.3 L381.3,70.6 L384.3,70.9 L387.3,71.2 L390.2,71.5 L393.2,71.9 L396.2,72.2 L399.2,72.5 L402.2,72.8 L405.2,73.1 L408.1,73.4 L411.1,73.7 L414.1,74.0 L417.1,74.4 L420.1,74.7 L423.0,75.0 L426.0,75.3 L429.0,75.6 L432.0,75.9 L435.0,76.2 L438.0,76.6 L440.9,76.9 L443.9,77.2 L446.9,77.5 L449.9,77.8 L452.9,78.1 L455.8,78.4 L458.8,78.8 L461.8,79.1 L464.8,79.4 L467.8,79.7 L470.7,80.0 L473.7,80.3 L476.7,80.6 L479.7,80.9 L482.7,81.3 L485.6,81.6 L488.6,81.9 L491.6,82.2 L494.6,82.5 L497.6,82.8 L500.5,83.1 L503.5,83.5 L506.5,83.8 L509.5,84.1 L512.5,84.4 L515.4,84.7 L518.4,85.0 L521.4,85.3 L524.4,85.7 L527.4,86.0 L530.3,86.3 L533.3,86.6 L536.3,86.9 L539.3,87.2 L542.3,87.5 L545.2,87.8 L548.2,88.2 L551.2,88.5 L554.2,88.8 L557.2,89.1 L560.1,89.4 L563.1,89.7 L566.1,90.0 L569.1,90.4 L572.1,90.7 L575.0,91.0 L578.0,91.3 L581.0,91.6 L584.0,91.9 L587.0,92.2 L589.9,92.5 L592.9,92.9 L595.9,93.2 L598.9,93.5 L601.9,93.8 L604.8,94.1 L607.8,94.4 L610.8,94.7 L613.8,95.0 L616.8,95.4 L619.7,95.7 L622.7,96.0 L625.7,96.3 L628.7,96.6 L631.7,96.9 L634.7,97.2 L637.6,97.5 L640.6,97.9 L643.6,98.2 L646.6,98.5 L649.6,98.8 L652.5,99.1 L655.5,99.4 L658.5,99.7 L661.5,100.0 L664.5,100.4 L667.4,100.7 L670.4,101.0 L673.4,101.3 L676.4,101.6 L679.4,101.9 L682.3,102.2 L685.3,102.5 L688.3,102.9 L691.3,103.2 L694.3,103.5 L697.3,103.8 L700.2,104.1 L703.2,104.4 L706.2,104.7 L709.2,105.0 L712.2,105.3 L715.1,105.7 L718.1,106.0 L721.1,106.3 L724.1,106.6 L727.1,106.9 L730.1,107.2 L733.0,107.5 L736.0,107.8 L739.0,108.1 L742.0,108.5 L745.0,108.8 L748.0,109.1 L750.9,109.4 L753.9,109.7 L756.9,110.0 L759.9,110.3 L762.9,110.6 L765.9,110.9 L768.8,111.3 L771.8,111.6 L774.8,111.9 L777.8,112.2 L780.8,112.5 L783.8,112.8 L786.7,113.1 L789.7,113.4 L792.7,113.7 L795.7,114.0 L798.7,114.4 L801.7,114.7 L804.6,115.0 L807.6,115.3 L810.6,115.6 L813.6,115.9 L816.6,116.2 L819.6,116.5 L822.6,116.8 L825.5,117.1 L828.5,117.5 L831.5,117.8 L834.5,118.1 L837.5,118.4 L840.5,118.7 L843.5,119.0 L846.4,119.3 L849.4,119.6 L852.4,119.9 L855.4,120.2 L858.4,120.5 L861.4,120.9 L864.4,121.2 L867.4,121.5 L870.3,121.8 L873.3,122.1 L876.3,122.4 L879.3,122.7 L882.3,123.0 L885.3,123.3 L888.3,123.6 L891.2,123.9 L894.2,124.3 L897.2,124.6 L900.2,124.9 L903.2,125.2 L906.2,125.5 L909.2,125.8 L912.2,126.1 L915.1,126.4 L918.1,126.7 L921.1,127.0 L924.1,127.4 L927.1,127.7 L930.1,128.0 L933.1,128.3 L936.1,128.6 L939.0,128.9 L942.0,129.2 L945.0,129.5 L948.0,129.8 L951.0,130.1 L954.0,130.5 L957.0,130.8 L960.0,131.1 L962.9,131.4 L965.9,131.7 L968.9,132.0 L971.9,132.3 L974.9,132.6 L977.9,133.0 L980.9,133.3 L983.8,133.6 L986.8,133.9 L989.8,134.2 L992.8,134.5 L995.8,134.8 L998.8,135.1 L1001.8,135.5 L1004.7,135.8 L1007.7,136.1 L1010.7,136.4 L1013.7,136.7 L1016.7,137.0 L1019.7,137.4 L1022.7,137.7 L1025.6,138.0 L1028.6,138.3 L1031.6,138.6 L1034.6,138.9 L1037.6,139.3 L1040.6,139.6 L1043.6,139.9 L1046.5,140.2 L1049.5,140.5 L1052.5,140.8 L1055.5,141.2 L1058.5,141.5 L1061.5,141.8 L1064.4,142.1 L1067.4,142.4 L1070.4,142.8 L1073.4,143.1 L1076.4,143.4 L1079.3,143.7 L1082.3,144.0 L1085.3,144.4 L1088.3,144.7 L1091.3,145.0 L1094.2,145.3 L1097.2,145.7 L1100.2,146.0 L1103.2,146.3 L1106.2,146.6 L1109.1,147.0 L1112.1,147.3 L1115.1,147.6 L1118.1,147.9 L1121.1,148.3 L1124.0,148.6 L1127.0,148.9 L1130.0,149.2 L1133.0,149.6 L1136.0,149.9 L1138.9,150.2 L1141.9,150.6 L1144.9,150.9 L1147.9,151.2 L1150.8,151.5 L1153.8,151.9 L1156.8,152.2 L1159.8,152.5 L1162.7,152.9 L1165.7,153.2 L1168.7,153.5 L1171.7,153.9 L1174.6,154.2 L1177.6,154.5 L1180.6,154.9 L1183.5,155.2 L1186.5,155.5 L1189.5,155.9 L1192.5,156.2 L1195.4,156.6 L1198.4,156.9 L1201.4,157.2 L1204.3,157.6 L1207.3,157.9 L1210.3,158.3 L1213.2,158.6 L1216.2,158.9 L1219.2,159.3 L1222.2,159.6 L1225.1,160.0 L1228.1,160.3 L1231.1,160.6 L1234.0,161.0 L1237.0,161.3 L1240.0,161.7 L1242.9,162.0 L1245.9,162.4 L1248.9,162.7 L1251.8,163.1 L1254.8,163.4 L1257.8,163.8 L1260.7,164.1 L1263.7,164.5 L1266.7,164.8 L1269.6,165.2 L1272.6,165.5 L1275.6,165.9 L1278.5,166.2 L1281.5,166.6 L1284.5,166.9 L1287.4,167.3 L1290.4,167.6 L1293.4,168.0 L1296.3,168.3 L1299.3,168.7 L1302.3,169.0 L1305.2,169.4 L1308.2,169.8 L1311.2,170.1 L1314.1,170.5 L1317.1,170.8 L1320.1,171.2 L1323.0,171.5 L1326.0,171.9 L1329.0,172.3 L1332.0,172.6 L1334.9,173.0 L1337.9,173.3 L1340.9,173.7 L1343.9,174.1 L1346.8,174.4 L1349.8,174.8 L1352.8,175.2 L1355.7,175.5 L1358.7,175.9 L1361.7,176.2 L1364.7,176.6 L1367.7,177.0 L1370.6,177.3 L1373.6,177.7 L1376.6,178.1 L1379.6,178.4 L1382.6,178.8 L1385.5,179.2 L1388.5,179.5 L1391.5,179.9 L1394.5,180.3 L1397.5,180.6 L1400.5,181.0 L1403.4,181.4 L1406.4,181.8 L1409.4,182.1 L1412.4,182.5 L1415.4,182.9 L1418.4,183.2 L1421.4,183.6 L1424.4,184.0 L1427.4,184.4 L1430.4,184.7 L1433.4,185.1 L1436.4,185.5 L1439.4,185.8 L1442.4,186.2 L1445.4,186.6 L1448.4,187.0 L1451.4,187.3 L1454.4,187.7 L1457.4,188.1 L1460.4,188.5 L1463.4,188.8 L1466.4,189.2 L1469.4,189.6 L1472.4,190.0 L1475.4,190.4 L1478.4,190.7 L1481.5,191.1 L1484.5,191.5 L1487.5,191.9 L1490.5,192.3 L1493.5,192.6 L1496.6,193.0 L1499.6,193.4 L1502.6,193.8 L1505.6,194.2 L1508.7,194.5 L1511.7,194.9 L1514.7,195.3 L1517.7,195.7 L1520.8,196.1 L1523.8,196.5 L1526.8,197.0 L1529.8,197.5 L1532.8,198.0 L1535.7,198.5 L1538.7,199.1 L1541.6,199.7 L1544.5,200.4 L1547.3,201.2 L1550.2,202.0 L1553.0,202.9 L1555.7,203.8 L1558.5,204.9 L1561.2,206.0 L1563.8,207.2 L1566.4,208.5 L1568.9,209.8 L1571.4,211.3 L1573.8,212.9 L1576.1,214.6 L1578.4,216.5 L1580.5,218.4 L1582.6,220.4 L1584.7,222.5 L1586.7,224.7 L1588.6,226.9 L1590.5,229.3 L1592.3,231.6 L1594.1,234.0 L1595.9,236.5 L1597.6,239.0 L1599.3,241.5 L1601.0,244.0 L1602.8,246.5 L1604.4,249.1 L1606.1,251.6 L1607.8,254.1 L1609.5,256.6 L1611.3,259.1 L1613.0,261.6 L1614.7,264.1 L1616.4,266.6 L1618.1,269.1 L1619.8,271.5 L1621.5,274.0 L1623.2,276.5 L1624.9,279.0 L1626.6,281.4 L1628.3,283.9 L1630.0,286.4 L1631.7,288.8 L1633.4,291.3 L1635.1,293.7 L1636.8,296.2 L1638.5,298.7 L1640.2,301.1 L1641.9,303.6 L1643.6,306.0 L1645.3,308.5 L1646.9,311.0 L1648.6,313.4 L1650.3,315.9 L1652.0,318.4 L1653.7,320.8 L1655.4,323.3 L1657.1,325.7 L1658.8,328.2 L1660.5,330.7 L1662.2,333.1 L1663.9,335.6 L1665.5,338.1 L1667.2,340.6 L1668.9,343.0 L1670.6,345.5 L1672.3,348.0 L1674.0,350.4 L1675.6,352.9 L1677.3,355.4 L1679.0,357.9 L1680.7,360.4 L1682.4,362.8 L1684.0,365.3 L1685.7,367.8 L1687.4,370.3 L1689.0,372.8 L1690.7,375.2 L1692.4,377.7 L1694.0,380.2 L1695.7,382.7 L1697.4,385.2 L1699.0,387.7 L1700.7,390.2 L1702.4,392.7 L1704.0,395.2 L1705.7,397.7 L1707.3,400.2 L1709.0,402.7 L1710.6,405.2 L1712.3,407.7 L1713.9,410.2 L1715.6,412.7 L1717.2,415.2 L1718.9,417.8 L1720.5,420.3 L1722.1,422.8 L1723.8,425.3 L1725.4,427.8 L1727.0,430.4 L1728.7,432.9 L1730.3,435.4 L1731.9,437.9 L1733.5,440.5 L1735.1,443.0 L1736.7,445.5 L1738.4,448.1 L1740.0,450.6 L1741.6,453.1 L1743.2,455.7 L1744.8,458.2 L1746.4,460.8 L1748.0,463.3 L1749.5,465.9 L1751.1,468.4 L1752.7,471.0 L1754.3,473.6 L1755.9,476.1 L1757.4,478.7 L1759.0,481.2 L1760.6,483.8 L1762.1,486.4 L1763.7,489.0 L1765.2,491.5 L1766.8,494.1 L1768.3,496.7 L1769.9,499.3 L1771.4,501.8 L1772.9,504.4 L1774.4,507.0 L1776.0,509.6 L1777.5,512.2 L1779.0,514.8 L1780.5,517.4 L1782.0,520.0 L1783.5,522.6 L1785.0,525.2 L1786.5,527.8 L1788.0,530.4 L1789.4,533.0 L1790.9,535.7 L1792.4,538.3 L1793.9,540.9 L1795.3,543.5 L1796.8,546.1 L1798.2,548.8 L1799.7,551.4 L1801.1,554.0 L1802.5,556.7 L1803.9,559.3 L1805.4,562.0 L1806.8,564.6 L1808.2,567.3 L1809.6,569.9 L1811.0,572.6 L1812.4,575.2 L1813.8,577.9 L1815.1,580.5 L1816.5,583.2 L1817.9,585.9 L1819.2,588.5 L1820.6,591.2 L1821.9,593.9 L1823.3,596.6 L1824.6,599.3 L1825.9,601.9 L1827.2,604.6 L1828.6,607.3 L1829.9,610.0 L1831.2,612.7 L1832.5,615.4 L1833.7,618.1 L1835.0,620.8 L1836.3,623.5 L1837.6,626.3 L1838.8,629.0 L1840.1,631.7 L1841.3,634.4 L1842.5,637.1 L1843.8,639.9 L1845.0,642.6 L1846.2,645.3 L1847.4,648.1 L1848.6,650.8 L1849.8,653.6 L1850.9,656.3 L1852.1,659.1 L1853.3,661.8 L1854.4,664.6 L1855.6,667.4 L1856.7,670.1 L1857.9,672.9 L1859.0,675.7 L1860.1,678.4 L1861.2,681.2 L1862.3,684.0 L1863.4,686.8 L1864.5,689.6 L1865.5,692.4 L1866.6,695.2 L1867.6,698.0 L1868.7,700.8 L1869.7,703.6 L1870.8,706.4 L1871.8,709.2 L1872.8,712.0 L1873.8,714.9 L1874.8,717.7 L1875.8,720.5 L1876.8,723.4 L1877.7,726.2 L1878.7,729.0 L1879.6,731.9 L1880.6,734.7 L1881.5,737.6 L1882.5,740.4 L1883.4,743.3 L1884.3,746.1 L1885.2,749.0 L1886.2,751.8 L1887.1,754.7 L1888.0,757.5 L1888.8,760.4 L1889.7,763.3 L1890.6,766.1 L1891.5,769.0 L1892.3,771.9 L1893.2,774.8 L1894.1,777.6 L1894.9,780.5 L1895.8,783.4 L1896.6,786.3 L1897.4,789.2 L1898.3,792.1 L1899.1,795.0 L1899.9,797.8 L1900.7,800.7 L1901.5,803.6 L1902.3,806.5 L1903.1,809.4 L1903.9,812.3 L1904.7,815.2 L1905.5,818.1 L1906.3,821.0 L1907.0,823.9 L1907.8,826.8 L1908.6,829.7 L1909.4,832.7 L1910.1,835.6 L1910.9,838.5 L1911.6,841.4 L1912.4,844.3 L1913.1,847.2 L1913.9,850.1 L1914.6,853.0 L1915.4,855.9 L1916.1,858.9 L1916.8,861.8 L1917.6,864.7 L1918.3,867.6 L1919.0,870.5 L1919.8,873.4 L1920.5,876.3 L1921.2,879.3 L1921.9,882.2 L1922.6,885.1 L1923.3,888.0 L1924.1,890.9 L1924.8,893.9 L1925.5,896.8 L1926.2,899.7 L1926.9,902.6 L1927.6,905.5 L1928.3,908.4 L1929.0,911.3 L1929.7,914.3 L1930.4,917.2 L1931.1,920.1 L1931.8,923.0 L1932.5,925.9 L1933.2,928.8 L1933.9,931.7 L1934.6,934.7 L1935.3,937.6 L1936.0,940.5 L1936.7,943.4 L1937.4,946.3 L1938.2,949.2 L1938.9,952.1 L1939.6,955.0 L1940.3,957.9 L1941.0,960.8 L1941.7,963.7 L1942.4,966.6 L1943.1,969.5" stroke="#37AD6B"/>
<path d="M247.0,56.5 L250.0,56.8 L253.0,57.1 L255.9,57.4 L258.9,57.8 L261.9,58.1 L264.9,58.4 L267.9,58.7 L270.8,59.0 L273.8,59.3 L276.8,59.7 L279.8,60.0 L282.8,60.3 L285.8,60.6 L288.7,60.9 L291.7,61.2 L294.7,61.5 L297.7,61.9 L300.7,62.2 L303.6,62.5 L306.6,62.8 L309.6,63.1 L312.6,63.4 L315.6,63.8 L318.5,64.1 L321.5,64.4 L324.5,64.7 L327.5,65.0 L330.5,65.3 L333.5,65.6 L336.4,66.0 L339.4,66.3 L342.4,66.6 L345.4,66.9 L348.4,67.2 L351.3,67.5 L354.3,67.8 L357.3,68.1 L360.3,68.5 L363.3,68.8 L366.2,69.1 L369.2,69.4 L372.2,69.7 L375.2,70.0 L378.2,70.3 L381.2,70.7 L384.1,71.0 L387.1,71.3 L390.1,71.6 L393.1,71.9 L396.1,72.2 L399.0,72.5 L402.0,72.8 L405.0,73.2 L408.0,73.5 L411.0,73.8 L413.9,74.1 L416.9,74.4 L419.9,74.7 L422.9,75.0 L425.9,75.4 L428.9,75.7 L431.8,76.0 L434.8,76.3 L437.8,76.6 L440.8,76.9 L443.8,77.2 L446.7,77.5 L449.7,77.9 L452.7,78.2 L455.7,78.5 L458.7,78.8 L461.6,79.1 L464.6,79.4 L467.6,79.7 L470.6,80.0 L473.6,80.4 L476.6,80.7 L479.5,81.0 L482.5,81.3 L485.5,81.6 L488.5,81.9 L491.5,82.2 L494.4,82.5 L497.4,82.8 L500.4,83.2 L503.4,83.5 L506.4,83.8 L509.3,84.1 L512.3,84.4 L515.3,84.7 L518.3,85.0 L521.3,85.3 L524.3,85.7 L527.2,86.0 L530.2,86.3 L533.2,86.6 L536.2,86.9 L539.2,87.2 L542.1,87.5 L545.1,87.8 L548.1,88.1 L551.1,88.5 L554.1,88.8 L557.0,89.1 L560.0,89.4 L563.0,89.7 L566.0,90.0 L569.0,90.3 L572.0,90.6 L574.9,90.9 L577.9,91.3 L580.9,91.6 L583.9,91.9 L586.9,92.2 L589.8,92.5 L592.8,92.8 L595.8,93.1 L598.8,93.4 L601.8,93.7 L604.8,94.1 L607.7,94.4 L610.7,94.7 L613.7,95.0 L616.7,95.3 L619.7,95.6 L622.6,95.9 L625.6,96.2 L628.6,96.5 L631.6,96.9 L634.6,97.2 L637.5,97.5 L640.5,97.8 L643.5,98.1 L646.5,98.4 L649.5,98.7 L652.5,99.0 L655.4,99.3 L658.4,99.7 L661.4,100.0 L664.4,100.3 L667.4,100.6 L670.3,100.9 L673.3,101.2 L676.3,101.5 L679.3,101.8 L682.3,102.1 L685.2,102.5 L688.2,102.8 L691.2,103.1 L694.2,103.4 L697.2,103.7 L700.2,104.0 L703.1,104.3 L706.1,104.6 L709.1,104.9 L712.1,105.2 L715.1,105.6 L718.0,105.9 L721.0,106.2 L724.0,106.5 L727.0,106.8 L730.0,107.1 L733.0,107.4 L735.9,107.7 L738.9,108.0 L741.9,108.4 L744.9,108.7 L747.9,109.0 L750.8,109.3 L753.8,109.6 L756.8,109.9 L759.8,110.2 L762.8,110.5 L765.7,110.8 L768.7,111.2 L771.7,111.5 L774.7,111.8 L777.7,112.1 L780.7,112.4 L783.6,112.7 L786.6,113.0 L789.6,113.3 L792.6,113.6 L795.6,114.0 L798.5,114.3 L801.5,114.6 L804.5,114.9 L807.5,115.2 L810.5,115.5 L813.5,115.8 L816.4,116.1 L819.4,116.4 L822.4,116.8 L825.4,117.1 L828.4,117.4 L831.3,117.7 L834.3,118.0 L837.3,118.3 L840.3,118.6 L843.3,118.9 L846.3,119.2 L849.2,119.6 L852.2,119.9 L855.2,120.2 L858.2,120.5 L861.2,120.8 L864.1,121.1 L867.1,121.4 L870.1,121.7 L873.1,122.1 L876.1,122.4 L879.0,122.7 L882.0,123.0 L885.0,123.3 L888.0,123.6 L891.0,123.9 L894.0,124.2 L896.9,124.5 L899.9,124.9 L902.9,125.2 L905.9,125.5 L908.9,125.8 L911.8,126.1 L914.8,126.4 L917.8,126.7 L920.8,127.0 L923.8,127.4 L926.8,127.7 L929.7,128.0 L932.7,128.3 L935.7,128.6 L938.7,128.9 L941.7,129.2 L944.6,129.6 L947.6,129.9 L950.6,130.2 L953.6,130.5 L956.6,130.8 L959.5,131.1 L962.5,131.4 L965.5,131.8 L968.5,132.1 L971.5,132.4 L974.5,132.7 L977.4,133.0 L980.4,133.3 L983.4,133.6 L986.4,134.0 L989.4,134.3 L992.3,134.6 L995.3,134.9 L998.3,135.2 L1001.3,135.5 L1004.3,135.8 L1007.2,136.2 L1010.2,136.5 L1013.2,136.8 L1016.2,137.1 L1019.2,137.4 L1022.2,137.7 L1025.1,138.1 L1028.1,138.4 L1031.1,138.7 L1034.1,139.0 L1037.1,139.3 L1040.0,139.6 L1043.0,140.0 L1046.0,140.3 L1049.0,140.6 L1052.0,140.9 L1054.9,141.2 L1057.9,141.6 L1060.9,141.9 L1063.9,142.2 L1066.9,142.5 L1069.8,142.8 L1072.8,143.2 L1075.8,143.5 L1078.8,143.8 L1081.8,144.1 L1084.8,144.4 L1087.7,144.8 L1090.7,145.1 L1093.7,145.4 L1096.7,145.7 L1099.7,146.0 L1102.6,146.4 L1105.6,146.7 L1108.6,147.0 L1111.6,147.3 L1114.6,147.6 L1117.5,148.0 L1120.5,148.3 L1123.5,148.6 L1126.5,148.9 L1129.5,149.3 L1132.4,149.6 L1135.4,149.9 L1138.4,150.2 L1141.4,150.6 L1144.4,150.9 L1147.3,151.2 L1150.3,151.5 L1153.3,151.8 L1156.3,152.2 L1159.3,152.5 L1162.2,152.8 L1165.2,153.1 L1168.2,153.5 L1171.2,153.8 L1174.2,154.1 L1177.1,154.5 L1180.1,154.8 L1183.1,155.1 L1186.1,155.4 L1189.1,155.8 L1192.0,156.1 L1195.0,156.4 L1198.0,156.7 L1201.0,157.1 L1203.9,157.4 L1206.9,157.7 L1209.9,158.1 L1212.9,158.4 L1215.9,158.7 L1218.8,159.1 L1221.8,159.4 L1224.8,159.7 L1227.8,160.0 L1230.8,160.4 L1233.7,160.7 L1236.7,161.0 L1239.7,161.4 L1242.7,161.7 L1245.6,162.0 L1248.6,162.4 L1251.6,162.7 L1254.6,163.0 L1257.6,163.4 L1260.5,163.7 L1263.5,164.1 L1266.5,164.4 L1269.5,164.7 L1272.5,165.1 L1275.4,165.4 L1278.4,165.7 L1281.4,166.1 L1284.4,166.4 L1287.3,166.8 L1290.3,167.1 L1293.3,167.4 L1296.3,167.8 L1299.3,168.1 L1302.2,168.5 L1305.2,168.8 L1308.2,169.2 L1311.2,169.5 L1314.1,169.9 L1317.1,170.2 L1320.1,170.6 L1323.1,170.9 L1326.0,171.3 L1329.0,171.6 L1332.0,172.0 L1335.0,172.3 L1338.0,172.7 L1340.9,173.0 L1343.9,173.4 L1346.9,173.7 L1349.9,174.1 L1352.8,174.4 L1355.8,174.8 L1358.8,175.2 L1361.8,175.5 L1364.7,175.9 L1367.7,176.2 L1370.7,176.6 L1373.7,177.0 L1376.6,177.3 L1379.6,177.7 L1382.6,178.1 L1385.6,178.4 L1388.5,178.8 L1391.5,179.2 L1394.5,179.5 L1397.5,179.9 L1400.4,180.3 L1403.4,180.6 L1406.4,181.0 L1409.4,181.4 L1412.3,181.8 L1415.3,182.1 L1418.3,182.5 L1421.3,182.9 L1424.2,183.3 L1427.2,183.7 L1430.2,184.0 L1433.2,184.4 L1436.1,184.8 L1439.1,185.2 L1442.1,185.6 L1445.0,186.0 L1448.0,186.4 L1451.0,186.8 L1454.0,187.2 L1456.9,187.5 L1459.9,187.9 L1462.9,188.3 L1465.9,188.7 L1468.8,189.1 L1471.8,189.5 L1474.8,189.9 L1477.7,190.3 L1480.7,190.7 L1483.7,191.1 L1486.7,191.6 L1489.6,192.0 L1492.6,192.4 L1495.6,192.8 L1498.5,193.2 L1501.5,193.6 L1504.5,194.0 L1507.5,194.4 L1510.4,194.9 L1513.4,195.3 L1516.4,195.7 L1519.3,196.1 L1522.3,196.6 L1525.3,197.0 L1528.2,197.5 L1531.2,197.9 L1534.2,198.4 L1537.1,198.9 L1540.1,199.4 L1543.1,199.9 L1546.0,200.4 L1549.0,200.9 L1552.0,201.5 L1554.9,202.0 L1557.9,202.6 L1560.9,203.3 L1563.8,203.9 L1566.8,204.6 L1569.7,205.3 L1572.6,206.1 L1575.4,207.0 L1578.2,208.0 L1581.0,209.1 L1583.7,210.3 L1586.3,211.7 L1588.8,213.2 L1591.3,214.8 L1593.6,216.6 L1596.0,218.5 L1598.2,220.4 L1600.4,222.4 L1602.6,224.4 L1604.7,226.5 L1606.8,228.6 L1608.9,230.7 L1610.9,232.9 L1612.9,235.1 L1614.8,237.4 L1616.8,239.6 L1618.6,241.9 L1620.5,244.2 L1622.3,246.6 L1624.1,248.9 L1625.9,251.3 L1627.7,253.7 L1629.4,256.2 L1631.2,258.6 L1632.9,261.1 L1634.5,263.6 L1636.2,266.0 L1637.9,268.6 L1639.5,271.1 L1641.1,273.6 L1642.8,276.1 L1644.4,278.7 L1646.0,281.2 L1647.6,283.8 L1649.2,286.3 L1650.8,288.9 L1652.3,291.5 L1653.9,294.0 L1655.5,296.6 L1657.1,299.1 L1658.7,301.7 L1660.3,304.2 L1662.0,306.8 L1663.6,309.3 L1665.2,311.9 L1666.8,314.4 L1668.4,316.9 L1670.1,319.4 L1671.7,322.0 L1673.3,324.5 L1675.0,327.0 L1676.6,329.5 L1678.3,332.0 L1679.9,334.5 L1681.6,337.0 L1683.2,339.5 L1684.9,342.0 L1686.5,344.5 L1688.2,347.0 L1689.9,349.5 L1691.5,352.0 L1693.2,354.5 L1694.9,356.9 L1696.5,359.4 L1698.2,361.9 L1699.9,364.4 L1701.5,366.9 L1703.2,369.4 L1704.9,371.8 L1706.5,374.3 L1708.2,376.8 L1709.9,379.3 L1711.5,381.8 L1713.2,384.2 L1714.9,386.7 L1716.5,389.2 L1718.2,391.7 L1719.9,394.2 L1721.5,396.7 L1723.2,399.2 L1724.8,401.6 L1726.5,404.1 L1728.1,406.6 L1729.8,409.1 L1731.4,411.6 L1733.1,414.1 L1734.7,416.6 L1736.3,419.1 L1738.0,421.6 L1739.6,424.1 L1741.2,426.7 L1742.9,429.2 L1744.5,431.7 L1746.1,434.2 L1747.7,436.7 L1749.3,439.3 L1750.9,441.8 L1752.5,444.3 L1754.1,446.9 L1755.7,449.4 L1757.3,452.0 L1758.8,454.5 L1760.4,457.1 L1762.0,459.6 L1763.6,462.2 L1765.1,464.7 L1766.7,467.3 L1768.2,469.8 L1769.8,472.4 L1771.3,475.0 L1772.9,477.6 L1774.4,480.1 L1775.9,482.7 L1777.5,485.3 L1779.0,487.9 L1780.5,490.5 L1782.0,493.1 L1783.5,495.6 L1785.0,498.2 L1786.5,500.8 L1788.0,503.4 L1789.5,506.1 L1791.0,508.7 L1792.5,511.3 L1794.0,513.9 L1795.4,516.5 L1796.9,519.1 L1798.4,521.7 L1799.8,524.4 L1801.3,527.0 L1802.7,529.6 L1804.2,532.3 L1805.6,534.9 L1807.0,537.5 L1808.4,540.2 L1809.9,542.8 L1811.3,545.5 L1812.7,548.1 L1814.1,550.8 L1815.5,553.4 L1816.9,556.1 L1818.3,558.8 L1819.6,561.4 L1821.0,564.1 L1822.4,566.8 L1823.7,569.4 L1825.1,572.1 L1826.4,574.8 L1827.8,577.5 L1829.1,580.2 L1830.5,582.8 L1831.8,585.5 L1833.1,588.2 L1834.4,590.9 L1835.7,593.6 L1837.0,596.3 L1838.3,599.0 L1839.6,601.7 L1840.9,604.4 L1842.2,607.2 L1843.4,609.9 L1844.7,612.6 L1846.0,615.3 L1847.2,618.0 L1848.5,620.8 L1849.7,623.5 L1850.9,626.2 L1852.2,629.0 L1853.4,631.7 L1854.6,634.4 L1855.8,637.2 L1857.0,639.9 L1858.2,642.7 L1859.4,645.4 L1860.6,648.2 L1861.7,651.0 L1862.9,653.7 L1864.0,656.5 L1865.2,659.2 L1866.3,662.0 L1867.5,664.8 L1868.6,667.6 L1869.7,670.3 L1870.8,673.1 L1871.9,675.9 L1873.0,678.7 L1874.1,681.5 L1875.2,684.3 L1876.3,687.1 L1877.4,689.9 L1878.4,692.7 L1879.5,695.5 L1880.5,698.3 L1881.6,701.1 L1882.6,703.9 L1883.6,706.7 L1884.7,709.5 L1885.7,712.3 L1886.7,715.2 L1887.7,718.0 L1888.6,720.8 L1889.6,723.6 L1890.6,726.5 L1891.6,729.3 L1892.5,732.1 L1893.5,735.0 L1894.4,737.8 L1895.3,740.7 L1896.3,743.5 L1897.2,746.4 L1898.1,749.2 L1899.0,752.1 L1899.9,754.9 L1900.8,757.8 L1901.7,760.7 L1902.5,763.5 L1903.4,766.4 L1904.3,769.3 L1905.1,772.1 L1906.0,775.0 L1906.8,777.9 L1907.6,780.7 L1908.5,783.6 L1909.3,786.5 L1910.1,789.4 L1910.9,792.3 L1911.7,795.2 L1912.5,798.1 L1913.3,800.9 L1914.1,803.8 L1914.9,806.7 L1915.7,809.6 L1916.4,812.5 L1917.2,815.4 L1917.9,818.3 L1918.7,821.2 L1919.4,824.1 L1920.2,827.0 L1920.9,829.9 L1921.7,832.9 L1922.4,835.8 L1923.1,838.7 L1923.8,841.6 L1924.5,844.5 L1925.2,847.4 L1925.9,850.3 L1926.6,853.3 L1927.3,856.2 L1928.0,859.1 L1928.7,862.0 L1929.4,864.9 L1930.0,867.9 L1930.7,870.8 L1931.4,873.7 L1932.0,876.6 L1932.7,879.6 L1933.3,882.5 L1934.0,885.4 L1934.6,888.4 L1935.3,891.3 L1935.9,894.2 L1936.6,897.2 L1937.2,900.1 L1937.8,903.0 L1938.4,906.0 L1939.1,908.9 L1939.7,911.8 L1940.3,914.8 L1940.9,917.7 L1941.5,920.7 L1942.1,923.6 L1942.7,926.5 L1943.3,929.5 L1943.9,932.4 L1944.5,935.4 L1945.1,938.3 L1945.7,941.2 L1946.3,944.2 L1946.8,947.1 L1947.4,950.1 L1948.0,953.0 L1948.6,955.9 L1949.1,958.9 L1949.7,961.8 L1950.3,964.8 L1950.8,967.7 L1951.4,970.6 L1952.0,973.6 L1952.5,976.5 L1953.1,979.5 L1953.7,982.4 L1954.2,985.4 L1954.8,988.3 L1955.3,991.2 L1955.9,994.2 L1956.4,997.1 L1957.0,1000.1 L1957.5,1003.0" stroke="#B177DE"/>
<path d="M247.0,56.5 L250.0,56.8 L253.0,57.1 L255.9,57.5 L258.9,57.8 L261.9,58.1 L264.9,58.4 L267.8,58.8 L270.8,59.1 L273.8,59.4 L276.8,59.7 L279.8,60.0 L282.7,60.4 L285.7,60.7 L288.7,61.0 L291.7,61.3 L294.7,61.6 L297.6,61.9 L300.6,62.3 L303.6,62.6 L306.6,62.9 L309.6,63.2 L312.5,63.5 L315.5,63.9 L318.5,64.2 L321.5,64.5 L324.5,64.8 L327.4,65.1 L330.4,65.4 L333.4,65.8 L336.4,66.1 L339.3,66.4 L342.3,66.7 L345.3,67.0 L348.3,67.3 L351.3,67.6 L354.2,68.0 L357.2,68.3 L360.2,68.6 L363.2,68.9 L366.2,69.2 L369.1,69.5 L372.1,69.8 L375.1,70.2 L378.1,70.5 L381.1,70.8 L384.0,71.1 L387.0,71.4 L390.0,71.7 L393.0,72.0 L396.0,72.4 L399.0,72.7 L401.9,73.0 L404.9,73.3 L407.9,73.6 L410.9,73.9 L413.9,74.2 L416.8,74.5 L419.8,74.9 L422.8,75.2 L425.8,75.5 L428.8,75.8 L431.7,76.1 L434.7,76.4 L437.7,76.7 L440.7,77.0 L443.7,77.3 L446.6,77.7 L449.6,78.0 L452.6,78.3 L455.6,78.6 L458.6,78.9 L461.5,79.2 L464.5,79.5 L467.5,79.8 L470.5,80.1 L473.5,80.4 L476.5,80.8 L479.4,81.1 L482.4,81.4 L485.4,81.7 L488.4,82.0 L491.4,82.3 L494.3,82.6 L497.3,82.9 L500.3,83.2 L503.3,83.5 L506.3,83.8 L509.2,84.2 L512.2,84.5 L515.2,84.8 L518.2,85.1 L521.2,85.4 L524.2,85.7 L527.1,86.0 L530.1,86.3 L533.1,86.6 L536.1,86.9 L539.1,87.2 L542.0,87.5 L545.0,87.9 L548.0,88.2 L551.0,88.5 L554.0,88.8 L556.9,89.1 L559.9,89.4 L562.9,89.7 L565.9,90.0 L568.9,90.3 L571.9,90.6 L574.8,90.9 L577.8,91.2 L580.8,91.5 L583.8,91.9 L586.8,92.2 L589.7,92.5 L592.7,92.8 L595.7,93.1 L598.7,93.4 L601.7,93.7 L604.7,94.0 L607.6,94.3 L610.6,94.6 L613.6,94.9 L616.6,95.2 L619.6,95.5 L622.5,95.9 L625.5,96.2 L628.5,96.5 L631.5,96.8 L634.5,97.1 L637.5,97.4 L640.4,97.7 L643.4,98.0 L646.4,98.3 L649.4,98.6 L652.4,98.9 L655.3,99.2 L658.3,99.5 L661.3,99.9 L664.3,100.2 L667.3,100.5 L670.2,100.8 L673.2,101.1 L676.2,101.4 L679.2,101.7 L682.2,102.0 L685.2,102.3 L688.1,102.6 L691.1,102.9 L694.1,103.2 L697.1,103.5 L700.1,103.9 L703.0,104.2 L706.0,104.5 L709.0,104.8 L712.0,105.1 L715.0,105.4 L717.9,105.7 L720.9,106.0 L723.9,106.3 L726.9,106.6 L729.9,106.9 L732.9,107.3 L735.8,107.6 L738.8,107.9 L741.8,108.2 L744.8,108.5 L747.8,108.8 L750.7,109.1 L753.7,109.4 L756.7,109.7 L759.7,110.0 L762.7,110.3 L765.6,110.7 L768.6,111.0 L771.6,111.3 L774.6,111.6 L777.6,111.9 L780.5,112.2 L783.5,112.5 L786.5,112.8 L789.5,113.1 L792.5,113.5 L795.4,113.8 L798.4,114.1 L801.4,114.4 L804.4,114.7 L807.4,115.0 L810.3,115.3 L813.3,115.6 L816.3,115.9 L819.3,116.3 L822.3,116.6 L825.2,116.9 L828.2,117.2 L831.2,117.5 L834.2,117.8 L837.2,118.1 L840.1,118.4 L843.1,118.8 L846.1,119.1 L849.1,119.4 L852.1,119.7 L855.0,120.0 L858.0,120.3 L861.0,120.6 L864.0,121.0 L867.0,121.3 L869.9,121.6 L872.9,121.9 L875.9,122.2 L878.9,122.5 L881.9,122.8 L884.8,123.2 L887.8,123.5 L890.8,123.8 L893.8,124.1 L896.8,124.4 L899.7,124.7 L902.7,125.0 L905.7,125.4 L908.7,125.7 L911.7,126.0 L914.6,126.3 L917.6,126.6 L920.6,126.9 L923.6,127.3 L926.6,127.6 L929.5,127.9 L932.5,128.2 L935.5,128.5 L938.5,128.8 L941.4,129.2 L944.4,129.5 L947.4,129.8 L950.4,130.1 L953.4,130.4 L956.3,130.7 L959.3,131.1 L962.3,131.4 L965.3,131.7 L968.3,132.0 L971.2,132.3 L974.2,132.7 L977.2,133.0 L980.2,133.3 L983.2,133.6 L986.1,133.9 L989.1,134.2 L992.1,134.6 L995.1,134.9 L998.0,135.2 L1001.0,135.5 L1004.0,135.8 L1007.0,136.2 L1010.0,136.5 L1012.9,136.8 L1015.9,137.1 L1018.9,137.4 L1021.9,137.8 L1024.9,138.1 L1027.8,138.4 L1030.8,138.7 L1033.8,139.0 L1036.8,139.4 L1039.8,139.7 L1042.7,140.0 L1045.7,140.3 L1048.7,140.6 L1051.7,141.0 L1054.6,141.3 L1057.6,141.6 L1060.6,141.9 L1063.6,142.2 L1066.6,142.6 L1069.5,142.9 L1072.5,143.2 L1075.5,143.5 L1078.5,143.8 L1081.5,144.2 L1084.4,144.5 L1087.4,144.8 L1090.4,145.1 L1093.4,145.4 L1096.3,145.8 L1099.3,146.1 L1102.3,146.4 L1105.3,146.7 L1108.3,147.0 L1111.2,147.4 L1114.2,147.7 L1117.2,148.0 L1120.2,148.3 L1123.2,148.7 L1126.1,149.0 L1129.1,149.3 L1132.1,149.6 L1135.1,149.9 L1138.1,150.3 L1141.0,150.6 L1144.0,150.9 L1147.0,151.2 L1150.0,151.6 L1152.9,151.9 L1155.9,152.2 L1158.9,152.5 L1161.9,152.8 L1164.9,153.2 L1167.8,153.5 L1170.8,153.8 L1173.8,154.1 L1176.8,154.4 L1179.8,154.8 L1182.7,155.1 L1185.7,155.4 L1188.7,155.7 L1191.7,156.1 L1194.7,156.4 L1197.6,156.7 L1200.6,157.0 L1203.6,157.4 L1206.6,157.7 L1209.6,158.0 L1212.5,158.3 L1215.5,158.6 L1218.5,159.0 L1221.5,159.3 L1224.5,159.6 L1227.4,159.9 L1230.4,160.3 L1233.4,160.6 L1236.4,160.9 L1239.4,161.2 L1242.3,161.5 L1245.3,161.9 L1248.3,162.2 L1251.3,162.5 L1254.3,162.8 L1257.2,163.2 L1260.2,163.5 L1263.2,163.8 L1266.2,164.1 L1269.2,164.4 L1272.1,164.8 L1275.1,165.1 L1278.1,165.4 L1281.1,165.7 L1284.1,166.1 L1287.0,166.4 L1290.0,166.7 L1293.0,167.0 L1296.0,167.4 L1299.0,167.7 L1301.9,168.0 L1304.9,168.3 L1307.9,168.6 L1310.9,169.0 L1313.9,169.3 L1316.8,169.6 L1319.8,169.9 L1322.8,170.3 L1325.8,170.6 L1328.8,170.9 L1331.8,171.2 L1334.7,171.6 L1337.7,171.9 L1340.7,172.2 L1343.7,172.5 L1346.7,172.8 L1349.6,173.2 L1352.6,173.5 L1355.6,173.8 L1358.6,174.1 L1361.6,174.5 L1364.5,174.8 L1367.5,175.1 L1370.5,175.4 L1373.5,175.7 L1376.5,176.1 L1379.5,176.4 L1382.4,176.7 L1385.4,177.0 L1388.4,177.4 L1391.4,177.7 L1394.4,178.0 L1397.4,178.3 L1400.3,178.6 L1403.3,179.0 L1406.3,179.3 L1409.3,179.6 L1412.3,179.9 L1415.2,180.3 L1418.2,180.6 L1421.2,180.9 L1424.2,181.3 L1427.2,181.6 L1430.1,182.0 L1433.1,182.3 L1436.1,182.6 L1439.1,183.0 L1442.1,183.3 L1445.0,183.7 L1448.0,184.0 L1451.0,184.4 L1454.0,184.8 L1456.9,185.1 L1459.9,185.5 L1462.9,185.9 L1465.9,186.3 L1468.8,186.6 L1471.8,187.0 L1474.8,187.4 L1477.8,187.8 L1480.7,188.2 L1483.7,188.6 L1486.7,189.0 L1489.6,189.5 L1492.6,189.9 L1495.6,190.3 L1498.5,190.8 L1501.5,191.2 L1504.4,191.7 L1507.4,192.1 L1510.4,192.6 L1513.3,193.0 L1516.3,193.5 L1519.2,194.0 L1522.2,194.5 L1525.1,195.0 L1528.1,195.5 L1531.0,196.0 L1534.0,196.6 L1536.9,197.1 L1539.9,197.6 L1542.8,198.2 L1545.8,198.7 L1548.7,199.3 L1551.6,199.9 L1554.6,200.5 L1557.5,201.1 L1560.4,201.7 L1563.4,202.3 L1566.3,202.9 L1569.2,203.6 L1572.2,204.2 L1575.1,204.9 L1578.0,205.6 L1580.9,206.2 L1583.8,206.9 L1586.8,207.6 L1589.7,208.3 L1592.6,209.1 L1595.5,209.8 L1598.4,210.6 L1601.3,211.3 L1604.2,212.1 L1607.1,212.9 L1609.9,213.9 L1612.7,214.8 L1615.5,215.9 L1618.2,217.2 L1620.8,218.5 L1623.3,219.9 L1625.7,221.5 L1628.1,223.3 L1630.3,225.2 L1632.5,227.1 L1634.6,229.2 L1636.6,231.4 L1638.5,233.7 L1640.4,236.1 L1642.2,238.5 L1644.0,241.0 L1645.7,243.5 L1647.3,246.1 L1648.9,248.7 L1650.5,251.3 L1652.0,253.9 L1653.5,256.5 L1655.0,259.2 L1656.5,261.8 L1657.9,264.4 L1659.3,267.1 L1660.8,269.7 L1662.2,272.4 L1663.6,275.0 L1665.0,277.6 L1666.5,280.3 L1667.9,282.9 L1669.4,285.5 L1670.9,288.1 L1672.4,290.7 L1674.0,293.2 L1675.5,295.8 L1677.1,298.3 L1678.7,300.9 L1680.2,303.4 L1681.8,305.9 L1683.5,308.4 L1685.1,311.0 L1686.7,313.5 L1688.3,316.0 L1690.0,318.5 L1691.7,320.9 L1693.3,323.4 L1695.0,325.9 L1696.7,328.4 L1698.4,330.9 L1700.0,333.3 L1701.7,335.8 L1703.4,338.3 L1705.1,340.7 L1706.8,343.2 L1708.5,345.7 L1710.2,348.2 L1711.9,350.6 L1713.6,353.1 L1715.3,355.6 L1717.0,358.0 L1718.7,360.5 L1720.3,363.0 L1722.0,365.5 L1723.7,368.0 L1725.4,370.5 L1727.0,373.0 L1728.7,375.4 L1730.4,377.9 L1732.0,380.4 L1733.7,383.0 L1735.3,385.5 L1736.9,388.0 L1738.6,390.5 L1740.2,393.0 L1741.8,395.5 L1743.4,398.0 L1745.1,400.6 L1746.7,403.1 L1748.3,405.6 L1749.9,408.2 L1751.5,410.7 L1753.1,413.3 L1754.7,415.8 L1756.2,418.3 L1757.8,420.9 L1759.4,423.5 L1761.0,426.0 L1762.5,428.6 L1764.1,431.1 L1765.6,433.7 L1767.2,436.3 L1768.7,438.8 L1770.3,441.4 L1771.8,444.0 L1773.3,446.6 L1774.9,449.2 L1776.4,451.7 L1777.9,454.3 L1779.4,456.9 L1780.9,459.5 L1782.4,462.1 L1783.9,464.7 L1785.4,467.3 L1786.9,469.9 L1788.3,472.5 L1789.8,475.2 L1791.3,477.8 L1792.7,480.4 L1794.2,483.0 L1795.6,485.6 L1797.1,488.3 L1798.5,490.9 L1800.0,493.5 L1801.4,496.2 L1802.8,498.8 L1804.2,501.5 L1805.6,504.1 L1807.0,506.8 L1808.4,509.4 L1809.8,512.1 L1811.2,514.7 L1812.6,517.4 L1814.0,520.0 L1815.4,522.7 L1816.7,525.4 L1818.1,528.0 L1819.4,530.7 L1820.8,533.4 L1822.1,536.1 L1823.4,538.8 L1824.8,541.5 L1826.1,544.1 L1827.4,546.8 L1828.7,549.5 L1830.0,552.2 L1831.3,554.9 L1832.6,557.6 L1833.9,560.3 L1835.2,563.0 L1836.5,565.8 L1837.7,568.5 L1839.0,571.2 L1840.2,573.9 L1841.5,576.6 L1842.7,579.4 L1844.0,582.1 L1845.2,584.8 L1846.4,587.6 L1847.6,590.3 L1848.8,593.0 L1850.0,595.8 L1851.2,598.5 L1852.4,601.3 L1853.6,604.0 L1854.8,606.8 L1855.9,609.5 L1857.1,612.3 L1858.2,615.0 L1859.4,617.8 L1860.5,620.6 L1861.7,623.3 L1862.8,626.1 L1863.9,628.9 L1865.0,631.7 L1866.1,634.5 L1867.2,637.2 L1868.3,640.0 L1869.4,642.8 L1870.5,645.6 L1871.5,648.4 L1872.6,651.2 L1873.7,654.0 L1874.7,656.8 L1875.8,659.6 L1876.8,662.4 L1877.8,665.2 L1878.8,668.0 L1879.8,670.9 L1880.8,673.7 L1881.8,676.5 L1882.8,679.3 L1883.8,682.1 L1884.8,685.0 L1885.8,687.8 L1886.7,690.6 L1887.7,693.5 L1888.6,696.3 L1889.5,699.2 L1890.5,702.0 L1891.4,704.9 L1892.3,707.7 L1893.2,710.6 L1894.1,713.4 L1895.0,716.3 L1895.9,719.1 L1896.8,722.0 L1897.7,724.9 L1898.5,727.7 L1899.4,730.6 L1900.2,733.5 L1901.1,736.3 L1901.9,739.2 L1902.8,742.1 L1903.6,745.0 L1904.4,747.9 L1905.2,750.7 L1906.0,753.6 L1906.8,756.5 L1907.6,759.4 L1908.4,762.3 L1909.2,765.2 L1910.0,768.1 L1910.8,771.0 L1911.5,773.9 L1912.3,776.8 L1913.1,779.7 L1913.8,782.6 L1914.6,785.5 L1915.3,788.4 L1916.0,791.3 L1916.8,794.2 L1917.5,797.1 L1918.2,800.0 L1919.0,802.9 L1919.7,805.9 L1920.4,808.8 L1921.1,811.7 L1921.8,814.6 L1922.5,817.5 L1923.2,820.5 L1923.9,823.4 L1924.6,826.3 L1925.2,829.2 L1925.9,832.2 L1926.6,835.1 L1927.2,838.0 L1927.9,840.9 L1928.6,843.9 L1929.2,846.8 L1929.9,849.7 L1930.5,852.7 L1931.2,855.6 L1931.8,858.5 L1932.5,861.5 L1933.1,864.4 L1933.7,867.3 L1934.4,870.3 L1935.0,873.2 L1935.6,876.1 L1936.3,879.1 L1936.9,882.0 L1937.5,885.0 L1938.1,887.9 L1938.7,890.8 L1939.3,893.8 L1939.9,896.7 L1940.6,899.7 L1941.2,902.6 L1941.8,905.5 L1942.4,908.5 L1943.0,911.4 L1943.6,914.4 L1944.1,917.3 L1944.7,920.2 L1945.3,923.2 L1945.9,926.1 L1946.5,929.1 L1947.1,932.0 L1947.7,935.0 L1948.3,937.9 L1948.8,940.8 L1949.4,943.8 L1950.0,946.7 L1950.6,949.7 L1951.2,952.6 L1951.7,955.5 L1952.3,958.5 L1952.9,961.4 L1953.5,964.4 L1954.1,967.3 L1954.6,970.2 L1955.2,973.2 L1955.8,976.1 L1956.4,979.1 L1956.9,982.0 L1957.5,984.9 L1958.1,987.9 L1958.7,990.8 L1959.2,993.7 L1959.8,996.7 L1960.4,999.6 L1961.0,1002.5 L1961.5,1005.4 L1962.1,1008.4 L1962.7,1011.3 L1963.3,1014.2 L1963.8,1017.2 L1964.4,1020.1 L1965.0,1023.0" stroke="#CC9900"/>
<path d="M247.0,56.4 L250.0,56.7 L253.0,57.0 L255.9,57.3 L258.9,57.6 L261.9,57.9 L264.9,58.2 L267.9,58.6 L270.8,58.9 L273.8,59.2 L276.8,59.5 L279.8,59.8 L282.8,60.1 L285.8,60.4 L288.7,60.7 L291.7,61.0 L294.7,61.3 L297.7,61.6 L300.7,61.9 L303.6,62.2 L306.6,62.5 L309.6,62.9 L312.6,63.2 L315.6,63.5 L318.5,63.8 L321.5,64.1 L324.5,64.4 L327.5,64.7 L330.5,65.0 L333.4,65.3 L336.4,65.6 L339.4,65.9 L342.4,66.2 L345.4,66.5 L348.4,66.9 L351.3,67.2 L354.3,67.5 L357.3,67.8 L360.3,68.1 L363.3,68.4 L366.2,68.7 L369.2,69.0 L372.2,69.3 L375.2,69.6 L378.2,69.9 L381.1,70.2 L384.1,70.6 L387.1,70.9 L390.1,71.2 L393.1,71.5 L396.0,71.8 L399.0,72.1 L402.0,72.4 L405.0,72.7 L408.0,73.0 L410.9,73.3 L413.9,73.6 L416.9,73.9 L419.9,74.2 L422.9,74.6 L425.8,74.9 L428.8,75.2 L431.8,75.5 L434.8,75.8 L437.8,76.1 L440.7,76.4 L443.7,76.7 L446.7,77.0 L449.7,77.3 L452.7,77.6 L455.6,77.9 L458.6,78.3 L461.6,78.6 L464.6,78.9 L467.6,79.2 L470.5,79.5 L473.5,79.8 L476.5,80.1 L479.5,80.4 L482.5,80.7 L485.4,81.0 L488.4,81.3 L491.4,81.6 L494.4,82.0 L497.4,82.3 L500.3,82.6 L503.3,82.9 L506.3,83.2 L509.3,83.5 L512.3,83.8 L515.2,84.1 L518.2,84.4 L521.2,84.7 L524.2,85.0 L527.2,85.3 L530.1,85.7 L533.1,86.0 L536.1,86.3 L539.1,86.6 L542.1,86.9 L545.0,87.2 L548.0,87.5 L551.0,87.8 L554.0,88.1 L557.0,88.4 L559.9,88.7 L562.9,89.1 L565.9,89.4 L568.9,89.7 L571.9,90.0 L574.8,90.3 L577.8,90.6 L580.8,90.9 L583.8,91.2 L586.8,91.5 L589.7,91.8 L592.7,92.1 L595.7,92.5 L598.7,92.8 L601.7,93.1 L604.6,93.4 L607.6,93.7 L610.6,94.0 L613.6,94.3 L616.6,94.6 L619.5,94.9 L622.5,95.2 L625.5,95.6 L628.5,95.9 L631.5,96.2 L634.4,96.5 L637.4,96.8 L640.4,97.1 L643.4,97.4 L646.4,97.7 L649.3,98.0 L652.3,98.3 L655.3,98.6 L658.3,99.0 L661.2,99.3 L664.2,99.6 L667.2,99.9 L670.2,100.2 L673.2,100.5 L676.1,100.8 L679.1,101.1 L682.1,101.4 L685.1,101.7 L688.1,102.1 L691.0,102.4 L694.0,102.7 L697.0,103.0 L700.0,103.3 L703.0,103.6 L705.9,103.9 L708.9,104.2 L711.9,104.5 L714.9,104.8 L717.9,105.2 L720.8,105.5 L723.8,105.8 L726.8,106.1 L729.8,106.4 L732.8,106.7 L735.7,107.0 L738.7,107.3 L741.7,107.6 L744.7,108.0 L747.7,108.3 L750.6,108.6 L753.6,108.9 L756.6,109.2 L759.6,109.5 L762.6,109.8 L765.5,110.1 L768.5,110.4 L771.5,110.8 L774.5,111.1 L777.5,111.4 L780.4,111.7 L783.4,112.0 L786.4,112.3 L789.4,112.6 L792.4,112.9 L795.3,113.2 L798.3,113.6 L801.3,113.9 L804.3,114.2 L807.3,114.5 L810.2,114.8 L813.2,115.1 L816.2,115.4 L819.2,115.7 L822.2,116.0 L825.1,116.4 L828.1,116.7 L831.1,117.0 L834.1,117.3 L837.1,117.6 L840.0,117.9 L843.0,118.2 L846.0,118.5 L849.0,118.8 L852.0,119.2 L854.9,119.5 L857.9,119.8 L860.9,120.1 L863.9,120.4 L866.9,120.7 L869.9,121.0 L872.8,121.3 L875.8,121.7 L878.8,122.0 L881.8,122.3 L884.8,122.6 L887.7,122.9 L890.7,123.2 L893.7,123.5 L896.7,123.8 L899.7,124.2 L902.6,124.5 L905.6,124.8 L908.6,125.1 L911.6,125.4 L914.6,125.7 L917.5,126.0 L920.5,126.3 L923.5,126.7 L926.5,127.0 L929.5,127.3 L932.4,127.6 L935.4,127.9 L938.4,128.2 L941.4,128.5 L944.4,128.9 L947.3,129.2 L950.3,129.5 L953.3,129.8 L956.3,130.1 L959.3,130.4 L962.2,130.7 L965.2,131.0 L968.2,131.4 L971.2,131.7 L974.2,132.0 L977.1,132.3 L980.1,132.6 L983.1,132.9 L986.1,133.2 L989.1,133.6 L992.0,133.9 L995.0,134.2 L998.0,134.5 L1001.0,134.8 L1004.0,135.1 L1006.9,135.5 L1009.9,135.8 L1012.9,136.1 L1015.9,136.4 L1018.9,136.7 L1021.8,137.0 L1024.8,137.3 L1027.8,137.7 L1030.8,138.0 L1033.8,138.3 L1036.7,138.6 L1039.7,138.9 L1042.7,139.2 L1045.7,139.6 L1048.7,139.9 L1051.7,140.2 L1054.6,140.5 L1057.6,140.8 L1060.6,141.1 L1063.6,141.5 L1066.6,141.8 L1069.5,142.1 L1072.5,142.4 L1075.5,142.7 L1078.5,143.0 L1081.5,143.4 L1084.4,143.7 L1087.4,144.0 L1090.4,144.3 L1093.4,144.6 L1096.4,144.9 L1099.3,145.3 L1102.3,145.6 L1105.3,145.9 L1108.3,146.2 L1111.2,146.5 L1114.2,146.9 L1117.2,147.2 L1120.2,147.5 L1123.2,147.8 L1126.1,148.1 L1129.1,148.4 L1132.1,148.8 L1135.1,149.1 L1138.1,149.4 L1141.0,149.7 L1144.0,150.0 L1147.0,150.4 L1150.0,150.7 L1153.0,151.0 L1155.9,151.3 L1158.9,151.6 L1161.9,152.0 L1164.9,152.3 L1167.9,152.6 L1170.8,152.9 L1173.8,153.2 L1176.8,153.6 L1179.8,153.9 L1182.8,154.2 L1185.7,154.5 L1188.7,154.8 L1191.7,155.2 L1194.7,155.5 L1197.7,155.8 L1200.6,156.1 L1203.6,156.4 L1206.6,156.8 L1209.6,157.1 L1212.5,157.4 L1215.5,157.7 L1218.5,158.1 L1221.5,158.4 L1224.5,158.7 L1227.4,159.0 L1230.4,159.4 L1233.4,159.7 L1236.4,160.0 L1239.4,160.3 L1242.3,160.6 L1245.3,161.0 L1248.3,161.3 L1251.3,161.6 L1254.2,161.9 L1257.2,162.3 L1260.2,162.6 L1263.2,162.9 L1266.2,163.2 L1269.1,163.6 L1272.1,163.9 L1275.1,164.2 L1278.1,164.5 L1281.1,164.9 L1284.0,165.2 L1287.0,165.5 L1290.0,165.8 L1293.0,166.2 L1295.9,166.5 L1298.9,166.8 L1301.9,167.1 L1304.9,167.5 L1307.9,167.8 L1310.8,168.1 L1313.8,168.4 L1316.8,168.8 L1319.8,169.1 L1322.7,169.4 L1325.7,169.8 L1328.7,170.1 L1331.7,170.4 L1334.6,170.7 L1337.6,171.1 L1340.6,171.4 L1343.6,171.7 L1346.6,172.0 L1349.5,172.4 L1352.5,172.7 L1355.5,173.0 L1358.5,173.4 L1361.4,173.7 L1364.4,174.0 L1367.4,174.4 L1370.4,174.7 L1373.3,175.0 L1376.3,175.3 L1379.3,175.7 L1382.3,176.0 L1385.3,176.3 L1388.2,176.7 L1391.2,177.0 L1394.2,177.3 L1397.2,177.7 L1400.1,178.0 L1403.1,178.3 L1406.1,178.7 L1409.1,179.0 L1412.0,179.3 L1415.0,179.7 L1418.0,180.0 L1421.0,180.3 L1423.9,180.7 L1426.9,181.0 L1429.9,181.4 L1432.9,181.7 L1435.8,182.1 L1438.8,182.4 L1441.8,182.8 L1444.8,183.1 L1447.7,183.5 L1450.7,183.9 L1453.7,184.2 L1456.6,184.6 L1459.6,185.0 L1462.6,185.3 L1465.6,185.7 L1468.5,186.1 L1471.5,186.5 L1474.5,186.9 L1477.4,187.3 L1480.4,187.7 L1483.4,188.1 L1486.3,188.5 L1489.3,188.9 L1492.3,189.3 L1495.2,189.7 L1498.2,190.2 L1501.1,190.6 L1504.1,191.0 L1507.1,191.5 L1510.0,191.9 L1513.0,192.4 L1516.0,192.8 L1518.9,193.3 L1521.9,193.8 L1524.8,194.3 L1527.8,194.7 L1530.7,195.2 L1533.7,195.7 L1536.6,196.2 L1539.6,196.8 L1542.6,197.3 L1545.5,197.8 L1548.5,198.3 L1551.4,198.9 L1554.4,199.4 L1557.3,200.0 L1560.3,200.5 L1563.2,201.1 L1566.1,201.7 L1569.1,202.3 L1572.0,202.9 L1575.0,203.5 L1577.9,204.1 L1580.9,204.7 L1583.8,205.3 L1586.7,206.0 L1589.7,206.6 L1592.6,207.3 L1595.5,207.9 L1598.5,208.6 L1601.4,209.3 L1604.3,210.0 L1607.3,210.7 L1610.2,211.4 L1613.1,212.1 L1616.0,212.9 L1619.0,213.6 L1621.9,214.4 L1624.8,215.2 L1627.7,216.0 L1630.6,216.8 L1633.5,217.7 L1636.3,218.6 L1639.2,219.6 L1642.0,220.6 L1644.7,221.7 L1647.5,222.9 L1650.2,224.1 L1652.8,225.5 L1655.5,226.9 L1658.0,228.4 L1660.5,230.0 L1663.0,231.7 L1665.4,233.4 L1667.7,235.3 L1670.0,237.2 L1672.1,239.2 L1674.2,241.3 L1676.2,243.5 L1678.1,245.8 L1679.9,248.1 L1681.7,250.5 L1683.3,253.0 L1684.9,255.5 L1686.5,258.0 L1688.0,260.6 L1689.5,263.2 L1691.0,265.8 L1692.4,268.5 L1693.9,271.1 L1695.3,273.7 L1696.8,276.3 L1698.3,279.0 L1699.8,281.6 L1701.3,284.2 L1702.9,286.7 L1704.4,289.3 L1705.9,291.9 L1707.5,294.5 L1709.0,297.0 L1710.6,299.6 L1712.2,302.2 L1713.7,304.7 L1715.3,307.3 L1716.9,309.8 L1718.5,312.3 L1720.1,314.9 L1721.7,317.4 L1723.3,320.0 L1724.9,322.5 L1726.5,325.0 L1728.1,327.6 L1729.7,330.1 L1731.3,332.6 L1732.9,335.1 L1734.5,337.7 L1736.1,340.2 L1737.7,342.7 L1739.3,345.3 L1740.9,347.8 L1742.5,350.3 L1744.1,352.9 L1745.7,355.4 L1747.2,358.0 L1748.8,360.5 L1750.4,363.1 L1751.9,365.6 L1753.5,368.2 L1755.0,370.8 L1756.6,373.3 L1758.1,375.9 L1759.6,378.5 L1761.1,381.1 L1762.7,383.6 L1764.2,386.2 L1765.7,388.8 L1767.2,391.4 L1768.7,394.0 L1770.1,396.6 L1771.6,399.2 L1773.1,401.8 L1774.6,404.4 L1776.0,407.0 L1777.5,409.6 L1778.9,412.3 L1780.4,414.9 L1781.8,417.5 L1783.2,420.1 L1784.7,422.8 L1786.1,425.4 L1787.5,428.1 L1788.9,430.7 L1790.3,433.3 L1791.7,436.0 L1793.1,438.7 L1794.5,441.3 L1795.8,444.0 L1797.2,446.6 L1798.6,449.3 L1799.9,452.0 L1801.3,454.6 L1802.6,457.3 L1804.0,460.0 L1805.3,462.7 L1806.6,465.4 L1807.9,468.0 L1809.3,470.7 L1810.6,473.4 L1811.9,476.1 L1813.2,478.8 L1814.5,481.5 L1815.8,484.2 L1817.0,486.9 L1818.3,489.6 L1819.6,492.3 L1820.8,495.1 L1822.1,497.8 L1823.4,500.5 L1824.6,503.2 L1825.8,506.0 L1827.1,508.7 L1828.3,511.4 L1829.5,514.2 L1830.7,516.9 L1831.9,519.6 L1833.1,522.4 L1834.3,525.1 L1835.5,527.9 L1836.7,530.6 L1837.9,533.4 L1839.1,536.1 L1840.2,538.9 L1841.4,541.6 L1842.6,544.4 L1843.7,547.2 L1844.9,549.9 L1846.0,552.7 L1847.1,555.5 L1848.3,558.3 L1849.4,561.0 L1850.5,563.8 L1851.6,566.6 L1852.7,569.4 L1853.8,572.2 L1854.9,575.0 L1856.0,577.8 L1857.1,580.6 L1858.2,583.4 L1859.2,586.2 L1860.3,589.0 L1861.3,591.8 L1862.4,594.6 L1863.4,597.4 L1864.5,600.2 L1865.5,603.0 L1866.5,605.8 L1867.6,608.6 L1868.6,611.4 L1869.6,614.3 L1870.6,617.1 L1871.6,619.9 L1872.6,622.7 L1873.6,625.6 L1874.6,628.4 L1875.5,631.2 L1876.5,634.1 L1877.5,636.9 L1878.4,639.7 L1879.4,642.6 L1880.3,645.4 L1881.3,648.3 L1882.2,651.1 L1883.2,654.0 L1884.1,656.8 L1885.0,659.7 L1885.9,662.5 L1886.8,665.4 L1887.7,668.2 L1888.6,671.1 L1889.5,674.0 L1890.4,676.8 L1891.3,679.7 L1892.2,682.5 L1893.0,685.4 L1893.9,688.3 L1894.7,691.2 L1895.6,694.0 L1896.4,696.9 L1897.3,699.8 L1898.1,702.6 L1899.0,705.5 L1899.8,708.4 L1900.6,711.3 L1901.4,714.2 L1902.2,717.1 L1903.0,719.9 L1903.8,722.8 L1904.6,725.7 L1905.4,728.6 L1906.2,731.5 L1907.0,734.4 L1907.7,737.3 L1908.5,740.2 L1909.3,743.1 L1910.0,746.0 L1910.8,748.9 L1911.5,751.8 L1912.3,754.7 L1913.0,757.6 L1913.8,760.5 L1914.5,763.4 L1915.2,766.3 L1916.0,769.2 L1916.7,772.1 L1917.4,775.0 L1918.1,777.9 L1918.8,780.8 L1919.5,783.7 L1920.2,786.7 L1920.9,789.6 L1921.6,792.5 L1922.3,795.4 L1923.0,798.3 L1923.7,801.2 L1924.3,804.2 L1925.0,807.1 L1925.7,810.0 L1926.3,812.9 L1927.0,815.8 L1927.7,818.8 L1928.3,821.7 L1929.0,824.6 L1929.6,827.5 L1930.3,830.5 L1930.9,833.4 L1931.6,836.3 L1932.2,839.3 L1932.9,842.2 L1933.5,845.1 L1934.1,848.0 L1934.7,851.0 L1935.4,853.9 L1936.0,856.8 L1936.6,859.8 L1937.2,862.7 L1937.8,865.6 L1938.5,868.6 L1939.1,871.5 L1939.7,874.5 L1940.3,877.4 L1940.9,880.3 L1941.5,883.3 L1942.1,886.2 L1942.7,889.1 L1943.3,892.1 L1943.9,895.0 L1944.5,898.0 L1945.1,900.9 L1945.7,903.8 L1946.2,906.8 L1946.8,909.7 L1947.4,912.7 L1948.0,915.6 L1948.6,918.5 L1949.2,921.5 L1949.7,924.4 L1950.3,927.4 L1950.9,930.3 L1951.5,933.3 L1952.0,936.2 L1952.6,939.1 L1953.2,942.1 L1953.8,945.0 L1954.3,948.0 L1954.9,950.9 L1955.5,953.9 L1956.0,956.8 L1956.6,959.7 L1957.2,962.7 L1957.7,965.6 L1958.3,968.6 L1958.9,971.5 L1959.4,974.5 L1960.0,977.4 L1960.6,980.3 L1961.1,983.3 L1961.7,986.2 L1962.3,989.2 L1962.8,992.1 L1963.4,995.0 L1963.9,998.0 L1964.5,1000.9 L1965.1,1003.9 L1965.6,1006.8 L1966.2,1009.8 L1966.8,1012.7 L1967.3,1015.6 L1967.9,1018.6 L1968.5,1021.5 L1969.0,1024.4 L1969.6,1027.4 L1970.2,1030.3 L1970.7,1033.3 L1971.3,1036.2 L1971.9,1039.1 L1972.4,1042.1 L1973.0,1045.0" stroke="#00CBCC"/>
<path d="M247.0,56.5 L250.0,56.8 L253.0,57.1 L256.0,57.4 L258.9,57.8 L261.9,58.1 L264.9,58.4 L267.9,58.7 L270.9,59.0 L273.9,59.3 L276.8,59.7 L279.8,60.0 L282.8,60.3 L285.8,60.6 L288.8,60.9 L291.8,61.2 L294.7,61.5 L297.7,61.9 L300.7,62.2 L303.7,62.5 L306.7,62.8 L309.7,63.1 L312.6,63.4 L315.6,63.8 L318.6,64.1 L321.6,64.4 L324.6,64.7 L327.6,65.0 L330.5,65.3 L333.5,65.6 L336.5,66.0 L339.5,66.3 L342.5,66.6 L345.5,66.9 L348.4,67.2 L351.4,67.5 L354.4,67.8 L357.4,68.1 L360.4,68.5 L363.4,68.8 L366.3,69.1 L369.3,69.4 L372.3,69.7 L375.3,70.0 L378.3,70.3 L381.3,70.7 L384.2,71.0 L387.2,71.3 L390.2,71.6 L393.2,71.9 L396.2,72.2 L399.2,72.5 L402.1,72.9 L405.1,73.2 L408.1,73.5 L411.1,73.8 L414.1,74.1 L417.1,74.4 L420.0,74.7 L423.0,75.0 L426.0,75.4 L429.0,75.7 L432.0,76.0 L435.0,76.3 L437.9,76.6 L440.9,76.9 L443.9,77.2 L446.9,77.5 L449.9,77.9 L452.9,78.2 L455.8,78.5 L458.8,78.8 L461.8,79.1 L464.8,79.4 L467.8,79.7 L470.8,80.0 L473.7,80.4 L476.7,80.7 L479.7,81.0 L482.7,81.3 L485.7,81.6 L488.7,81.9 L491.6,82.2 L494.6,82.5 L497.6,82.8 L500.6,83.2 L503.6,83.5 L506.6,83.8 L509.5,84.1 L512.5,84.4 L515.5,84.7 L518.5,85.0 L521.5,85.3 L524.5,85.7 L527.4,86.0 L530.4,86.3 L533.4,86.6 L536.4,86.9 L539.4,87.2 L542.4,87.5 L545.3,87.8 L548.3,88.1 L551.3,88.5 L554.3,88.8 L557.3,89.1 L560.2,89.4 L563.2,89.7 L566.2,90.0 L569.2,90.3 L572.2,90.6 L575.2,91.0 L578.1,91.3 L581.1,91.6 L584.1,91.9 L587.1,92.2 L590.1,92.5 L593.1,92.8 L596.0,93.1 L599.0,93.4 L602.0,93.8 L605.0,94.1 L608.0,94.4 L611.0,94.7 L613.9,95.0 L616.9,95.3 L619.9,95.6 L622.9,95.9 L625.9,96.2 L628.9,96.6 L631.8,96.9 L634.8,97.2 L637.8,97.5 L640.8,97.8 L643.8,98.1 L646.7,98.4 L649.7,98.7 L652.7,99.0 L655.7,99.4 L658.7,99.7 L661.7,100.0 L664.6,100.3 L667.6,100.6 L670.6,100.9 L673.6,101.2 L676.6,101.5 L679.6,101.8 L682.5,102.2 L685.5,102.5 L688.5,102.8 L691.5,103.1 L694.5,103.4 L697.5,103.7 L700.4,104.0 L703.4,104.3 L706.4,104.7 L709.4,105.0 L712.4,105.3 L715.3,105.6 L718.3,105.9 L721.3,106.2 L724.3,106.5 L727.3,106.8 L730.3,107.1 L733.2,107.5 L736.2,107.8 L739.2,108.1 L742.2,108.4 L745.2,108.7 L748.2,109.0 L751.1,109.3 L754.1,109.6 L757.1,109.9 L760.1,110.3 L763.1,110.6 L766.1,110.9 L769.0,111.2 L772.0,111.5 L775.0,111.8 L778.0,112.1 L781.0,112.4 L783.9,112.8 L786.9,113.1 L789.9,113.4 L792.9,113.7 L795.9,114.0 L798.9,114.3 L801.8,114.6 L804.8,114.9 L807.8,115.3 L810.8,115.6 L813.8,115.9 L816.8,116.2 L819.7,116.5 L822.7,116.8 L825.7,117.1 L828.7,117.4 L831.7,117.7 L834.7,118.1 L837.6,118.4 L840.6,118.7 L843.6,119.0 L846.6,119.3 L849.6,119.6 L852.6,119.9 L855.5,120.2 L858.5,120.6 L861.5,120.9 L864.5,121.2 L867.5,121.5 L870.4,121.8 L873.4,122.1 L876.4,122.4 L879.4,122.8 L882.4,123.1 L885.4,123.4 L888.3,123.7 L891.3,124.0 L894.3,124.3 L897.3,124.6 L900.3,124.9 L903.3,125.3 L906.2,125.6 L909.2,125.9 L912.2,126.2 L915.2,126.5 L918.2,126.8 L921.2,127.1 L924.1,127.5 L927.1,127.8 L930.1,128.1 L933.1,128.4 L936.1,128.7 L939.1,129.0 L942.0,129.3 L945.0,129.7 L948.0,130.0 L951.0,130.3 L954.0,130.6 L957.0,130.9 L959.9,131.2 L962.9,131.5 L965.9,131.9 L968.9,132.2 L971.9,132.5 L974.9,132.8 L977.8,133.1 L980.8,133.4 L983.8,133.7 L986.8,134.1 L989.8,134.4 L992.8,134.7 L995.7,135.0 L998.7,135.3 L1001.7,135.6 L1004.7,135.9 L1007.7,136.3 L1010.7,136.6 L1013.6,136.9 L1016.6,137.2 L1019.6,137.5 L1022.6,137.8 L1025.6,138.2 L1028.6,138.5 L1031.5,138.8 L1034.5,139.1 L1037.5,139.4 L1040.5,139.7 L1043.5,140.1 L1046.5,140.4 L1049.4,140.7 L1052.4,141.0 L1055.4,141.3 L1058.4,141.6 L1061.4,141.9 L1064.4,142.3 L1067.3,142.6 L1070.3,142.9 L1073.3,143.2 L1076.3,143.5 L1079.3,143.9 L1082.3,144.2 L1085.2,144.5 L1088.2,144.8 L1091.2,145.1 L1094.2,145.4 L1097.2,145.8 L1100.2,146.1 L1103.1,146.4 L1106.1,146.7 L1109.1,147.0 L1112.1,147.3 L1115.1,147.7 L1118.1,148.0 L1121.0,148.3 L1124.0,148.6 L1127.0,148.9 L1130.0,149.3 L1133.0,149.6 L1136.0,149.9 L1138.9,150.2 L1141.9,150.5 L1144.9,150.9 L1147.9,151.2 L1150.9,151.5 L1153.9,151.8 L1156.8,152.1 L1159.8,152.4 L1162.8,152.8 L1165.8,153.1 L1168.8,153.4 L1171.8,153.7 L1174.8,154.0 L1177.7,154.4 L1180.7,154.7 L1183.7,155.0 L1186.7,155.3 L1189.7,155.6 L1192.7,156.0 L1195.6,156.3 L1198.6,156.6 L1201.6,156.9 L1204.6,157.3 L1207.6,157.6 L1210.6,157.9 L1213.5,158.2 L1216.5,158.5 L1219.5,158.9 L1222.5,159.2 L1225.5,159.5 L1228.5,159.8 L1231.5,160.1 L1234.4,160.5 L1237.4,160.8 L1240.4,161.1 L1243.4,161.4 L1246.4,161.8 L1249.4,162.1 L1252.3,162.4 L1255.3,162.7 L1258.3,163.1 L1261.3,163.4 L1264.3,163.7 L1267.3,164.0 L1270.2,164.4 L1273.2,164.7 L1276.2,165.0 L1279.2,165.4 L1282.2,165.7 L1285.2,166.0 L1288.1,166.3 L1291.1,166.7 L1294.1,167.0 L1297.1,167.3 L1300.1,167.7 L1303.0,168.0 L1306.0,168.3 L1309.0,168.7 L1312.0,169.0 L1315.0,169.3 L1318.0,169.7 L1320.9,170.0 L1323.9,170.3 L1326.9,170.7 L1329.9,171.0 L1332.9,171.4 L1335.8,171.7 L1338.8,172.0 L1341.8,172.4 L1344.8,172.7 L1347.7,173.1 L1350.7,173.4 L1353.7,173.8 L1356.7,174.1 L1359.7,174.5 L1362.6,174.8 L1365.6,175.1 L1368.6,175.5 L1371.6,175.8 L1374.5,176.2 L1377.5,176.6 L1380.5,176.9 L1383.5,177.3 L1386.4,177.6 L1389.4,178.0 L1392.4,178.3 L1395.4,178.7 L1398.3,179.0 L1401.3,179.4 L1404.3,179.8 L1407.3,180.1 L1410.2,180.5 L1413.2,180.9 L1416.2,181.2 L1419.1,181.6 L1422.1,182.0 L1425.1,182.3 L1428.0,182.7 L1431.0,183.1 L1434.0,183.4 L1437.0,183.8 L1439.9,184.2 L1442.9,184.6 L1445.9,184.9 L1448.8,185.3 L1451.8,185.7 L1454.8,186.1 L1457.7,186.5 L1460.7,186.9 L1463.7,187.3 L1466.6,187.7 L1469.6,188.1 L1472.6,188.5 L1475.5,188.9 L1478.5,189.3 L1481.4,189.7 L1484.4,190.1 L1487.4,190.5 L1490.3,191.0 L1493.3,191.4 L1496.3,191.8 L1499.2,192.2 L1502.2,192.7 L1505.2,193.1 L1508.1,193.6 L1511.1,194.0 L1514.0,194.5 L1517.0,194.9 L1520.0,195.4 L1522.9,195.8 L1525.9,196.3 L1528.8,196.8 L1531.8,197.3 L1534.8,197.8 L1537.7,198.2 L1540.7,198.7 L1543.7,199.2 L1546.6,199.7 L1549.6,200.3 L1552.5,200.8 L1555.5,201.3 L1558.5,201.8 L1561.4,202.3 L1564.4,202.9 L1567.3,203.4 L1570.3,204.0 L1573.3,204.5 L1576.2,205.1 L1579.2,205.7 L1582.2,206.2 L1585.1,206.8 L1588.1,207.4 L1591.0,208.0 L1594.0,208.6 L1597.0,209.2 L1599.9,209.9 L1602.9,210.5 L1605.8,211.1 L1608.8,211.8 L1611.7,212.5 L1614.7,213.2 L1617.6,213.9 L1620.5,214.6 L1623.5,215.3 L1626.4,216.1 L1629.3,216.9 L1632.2,217.7 L1635.1,218.5 L1638.0,219.4 L1640.8,220.3 L1643.7,221.2 L1646.5,222.1 L1649.4,223.1 L1652.2,224.1 L1655.0,225.1 L1657.8,226.2 L1660.6,227.2 L1663.4,228.4 L1666.1,229.5 L1668.8,230.7 L1671.6,232.0 L1674.2,233.3 L1676.9,234.6 L1679.5,236.0 L1682.1,237.5 L1684.6,239.0 L1687.0,240.6 L1689.4,242.3 L1691.7,244.1 L1693.9,246.0 L1696.0,247.9 L1698.1,250.0 L1700.0,252.1 L1701.9,254.4 L1703.7,256.7 L1705.5,259.1 L1707.1,261.5 L1708.8,264.0 L1710.3,266.6 L1711.8,269.2 L1713.3,271.9 L1714.8,274.6 L1716.2,277.3 L1717.6,280.0 L1719.0,282.7 L1720.4,285.5 L1721.8,288.2 L1723.2,290.9 L1724.6,293.6 L1726.0,296.3 L1727.4,299.0 L1728.9,301.7 L1730.3,304.3 L1731.7,307.0 L1733.2,309.6 L1734.7,312.2 L1736.1,314.8 L1737.6,317.4 L1739.1,320.0 L1740.5,322.6 L1742.0,325.2 L1743.5,327.8 L1745.0,330.4 L1746.5,333.0 L1747.9,335.6 L1749.4,338.2 L1750.9,340.8 L1752.4,343.4 L1753.8,346.0 L1755.3,348.6 L1756.8,351.2 L1758.2,353.9 L1759.7,356.5 L1761.2,359.1 L1762.6,361.7 L1764.1,364.3 L1765.6,366.9 L1767.0,369.5 L1768.5,372.2 L1769.9,374.8 L1771.4,377.4 L1772.8,380.0 L1774.2,382.7 L1775.7,385.3 L1777.1,387.9 L1778.6,390.6 L1780.0,393.2 L1781.4,395.8 L1782.8,398.5 L1784.3,401.1 L1785.7,403.8 L1787.1,406.4 L1788.5,409.1 L1789.9,411.7 L1791.3,414.4 L1792.7,417.0 L1794.1,419.7 L1795.5,422.3 L1796.8,425.0 L1798.2,427.7 L1799.6,430.3 L1801.0,433.0 L1802.3,435.7 L1803.7,438.4 L1805.0,441.0 L1806.4,443.7 L1807.7,446.4 L1809.1,449.1 L1810.4,451.8 L1811.7,454.5 L1813.0,457.2 L1814.3,459.9 L1815.6,462.6 L1816.9,465.3 L1818.2,468.0 L1819.5,470.7 L1820.8,473.4 L1822.1,476.1 L1823.3,478.8 L1824.6,481.5 L1825.9,484.3 L1827.1,487.0 L1828.3,489.7 L1829.6,492.5 L1830.8,495.2 L1832.0,497.9 L1833.2,500.7 L1834.4,503.4 L1835.6,506.2 L1836.8,508.9 L1838.0,511.7 L1839.1,514.5 L1840.3,517.2 L1841.4,520.0 L1842.6,522.8 L1843.7,525.5 L1844.9,528.3 L1846.0,531.1 L1847.1,533.9 L1848.2,536.7 L1849.3,539.4 L1850.4,542.2 L1851.5,545.0 L1852.5,547.8 L1853.6,550.6 L1854.7,553.4 L1855.7,556.3 L1856.8,559.1 L1857.8,561.9 L1858.8,564.7 L1859.9,567.5 L1860.9,570.3 L1861.9,573.2 L1862.9,576.0 L1863.9,578.8 L1864.9,581.6 L1865.9,584.5 L1866.8,587.3 L1867.8,590.1 L1868.8,593.0 L1869.7,595.8 L1870.7,598.7 L1871.7,601.5 L1872.6,604.4 L1873.5,607.2 L1874.5,610.1 L1875.4,612.9 L1876.3,615.8 L1877.2,618.6 L1878.1,621.5 L1879.0,624.4 L1879.9,627.2 L1880.8,630.1 L1881.7,633.0 L1882.6,635.8 L1883.5,638.7 L1884.3,641.6 L1885.2,644.5 L1886.1,647.3 L1886.9,650.2 L1887.8,653.1 L1888.6,656.0 L1889.5,658.9 L1890.3,661.7 L1891.1,664.6 L1892.0,667.5 L1892.8,670.4 L1893.6,673.3 L1894.4,676.2 L1895.2,679.1 L1896.0,682.0 L1896.8,684.8 L1897.6,687.7 L1898.4,690.6 L1899.2,693.5 L1900.0,696.4 L1900.8,699.3 L1901.6,702.2 L1902.4,705.1 L1903.1,708.0 L1903.9,710.9 L1904.7,713.8 L1905.4,716.7 L1906.2,719.6 L1906.9,722.5 L1907.7,725.4 L1908.4,728.3 L1909.2,731.2 L1909.9,734.1 L1910.7,737.0 L1911.4,740.0 L1912.1,742.9 L1912.9,745.8 L1913.6,748.7 L1914.3,751.6 L1915.0,754.5 L1915.7,757.4 L1916.5,760.3 L1917.2,763.2 L1917.9,766.2 L1918.6,769.1 L1919.3,772.0 L1920.0,774.9 L1920.7,777.8 L1921.4,780.7 L1922.1,783.7 L1922.8,786.6 L1923.4,789.5 L1924.1,792.4 L1924.8,795.3 L1925.5,798.3 L1926.2,801.2 L1926.8,804.1 L1927.5,807.0 L1928.2,809.9 L1928.8,812.9 L1929.5,815.8 L1930.2,818.7 L1930.8,821.6 L1931.5,824.6 L1932.1,827.5 L1932.8,830.4 L1933.4,833.3 L1934.1,836.3 L1934.7,839.2 L1935.4,842.1 L1936.0,845.1 L1936.7,848.0 L1937.3,850.9 L1937.9,853.8 L1938.6,856.8 L1939.2,859.7 L1939.8,862.6 L1940.5,865.6 L1941.1,868.5 L1941.7,871.4 L1942.3,874.4 L1943.0,877.3 L1943.6,880.2 L1944.2,883.2 L1944.8,886.1 L1945.5,889.0 L1946.1,892.0 L1946.7,894.9 L1947.3,897.8 L1947.9,900.8 L1948.5,903.7 L1949.1,906.6 L1949.7,909.6 L1950.4,912.5 L1951.0,915.5 L1951.6,918.4 L1952.2,921.3 L1952.8,924.3 L1953.4,927.2 L1954.0,930.1 L1954.6,933.1 L1955.2,936.0 L1955.8,939.0 L1956.4,941.9 L1957.0,944.8 L1957.6,947.8 L1958.2,950.7 L1958.8,953.7 L1959.4,956.6 L1960.0,959.5 L1960.6,962.5 L1961.2,965.4 L1961.8,968.3 L1962.4,971.3 L1963.0,974.2 L1963.6,977.2 L1964.2,980.1 L1964.7,983.1 L1965.3,986.0 L1965.9,988.9 L1966.5,991.9 L1967.1,994.8 L1967.7,997.8 L1968.3,1000.7 L1968.9,1003.6 L1969.5,1006.6 L1970.1,1009.5 L1970.7,1012.5 L1971.3,1015.4 L1971.9,1018.3 L1972.5,1021.3 L1973.1,1024.2 L1973.7,1027.2 L1974.3,1030.1 L1974.9,1033.0 L1975.5,1036.0 L1976.0,1038.9 L1976.6,1041.9 L1977.2,1044.8 L1977.8,1047.7 L1978.4,1050.7 L1979.0,1053.6 L1979.6,1056.6 L1980.2,1059.5 L1980.9,1062.4 L1981.5,1065.4 L1982.1,1068.3 L1982.7,1071.2 L1983.3,1074.2 L1983.9,1077.1 L1984.5,1080.1 L1985.1,1083.0" stroke="#7D4E4E"/>
</g>
<line x1="1847.45" y1="56" x2="1847.45" y2="1331" stroke="#0000FF" stroke-width="7" stroke-dasharray="12 26.94"/>
<line x1="2003" y1="56" x2="2003" y2="1331" stroke="#FF0000" stroke-width="8" stroke-dasharray="12 26.94"/>
<g font-family='"Liberation Sans", Arial, sans-serif'>
<line x1="419" y1="490.00" x2="577" y2="490.00" stroke="#515151" stroke-width="8"/>
<text transform="translate(595.30,515.30) scale(1.0,1.05)" font-size="70">Day10</text>
<line x1="419" y1="577.14" x2="577" y2="577.14" stroke="#F14040" stroke-width="8"/>
<text transform="translate(595.30,602.44) scale(1.0,1.05)" font-size="70">Day40</text>
<line x1="419" y1="664.28" x2="577" y2="664.28" stroke="#1A6FDF" stroke-width="8"/>
<text transform="translate(595.30,689.58) scale(1.0,1.05)" font-size="70">Day70</text>
<line x1="419" y1="751.42" x2="577" y2="751.42" stroke="#37AD6B" stroke-width="8"/>
<text transform="translate(595.30,776.72) scale(1.0,1.05)" font-size="70">Day100</text>
<line x1="419" y1="838.56" x2="577" y2="838.56" stroke="#B177DE" stroke-width="8"/>
<text transform="translate(595.30,863.86) scale(1.0,1.05)" font-size="70">Day130</text>
<line x1="419" y1="925.70" x2="577" y2="925.70" stroke="#CC9900" stroke-width="8"/>
<text transform="translate(595.30,951.00) scale(1.0,1.05)" font-size="70">Day190</text>
<line x1="419" y1="1012.84" x2="577" y2="1012.84" stroke="#00CBCC" stroke-width="8"/>
<text transform="translate(595.30,1038.14) scale(1.0,1.05)" font-size="70">Day365</text>
<line x1="419" y1="1099.98" x2="577" y2="1099.98" stroke="#7D4E4E" stroke-width="8"/>
<text transform="translate(595.30,1125.28) scale(1.0,1.05)" font-size="70">Day730</text>
<text transform="translate(218.00,78.60) scale(1.0,1.05)" text-anchor="end" font-size="70">0</text>
<text transform="translate(218.00,333.60) scale(1.0,1.05)" text-anchor="end" font-size="70">50</text>
<text transform="translate(218.00,588.60) scale(1.0,1.05)" text-anchor="end" font-size="70">100</text>
<text transform="translate(218.00,843.60) scale(1.0,1.05)" text-anchor="end" font-size="70">150</text>
<text transform="translate(218.00,1098.60) scale(1.0,1.05)" text-anchor="end" font-size="70">200</text>
<text transform="translate(218.00,1353.60) scale(1.0,1.05)" text-anchor="end" font-size="70">250</text>
<text transform="translate(247.80,1416.50) scale(1.0,1.05)" text-anchor="middle" font-size="70">0</text>
<text transform="translate(627.80,1416.50) scale(1.0,1.05)" text-anchor="middle" font-size="70">1000</text>
<text transform="translate(1007.80,1416.50) scale(1.0,1.05)" text-anchor="middle" font-size="70">2000</text>
<text transform="translate(1387.80,1416.50) scale(1.0,1.05)" text-anchor="middle" font-size="70">3000</text>
<text transform="translate(1767.80,1416.50) scale(1.0,1.05)" text-anchor="middle" font-size="70">4000</text>
<text transform="translate(2147.80,1416.50) scale(1.0,1.05)" text-anchor="middle" font-size="70">5000</text>
<text transform="translate(71.5,692.5) rotate(-90) scale(1.018,1.035)" text-anchor="middle" font-size="70">Displacement (mm)</text>
<text transform="translate(1019.10,1494.30) scale(1.029,1.05)" font-size="70">P<tspan font-size="47" dy="18.1">u,t</tspan><tspan dy="-18.1"> (kN)</tspan></text>
</g>
</svg>
</body></html>
